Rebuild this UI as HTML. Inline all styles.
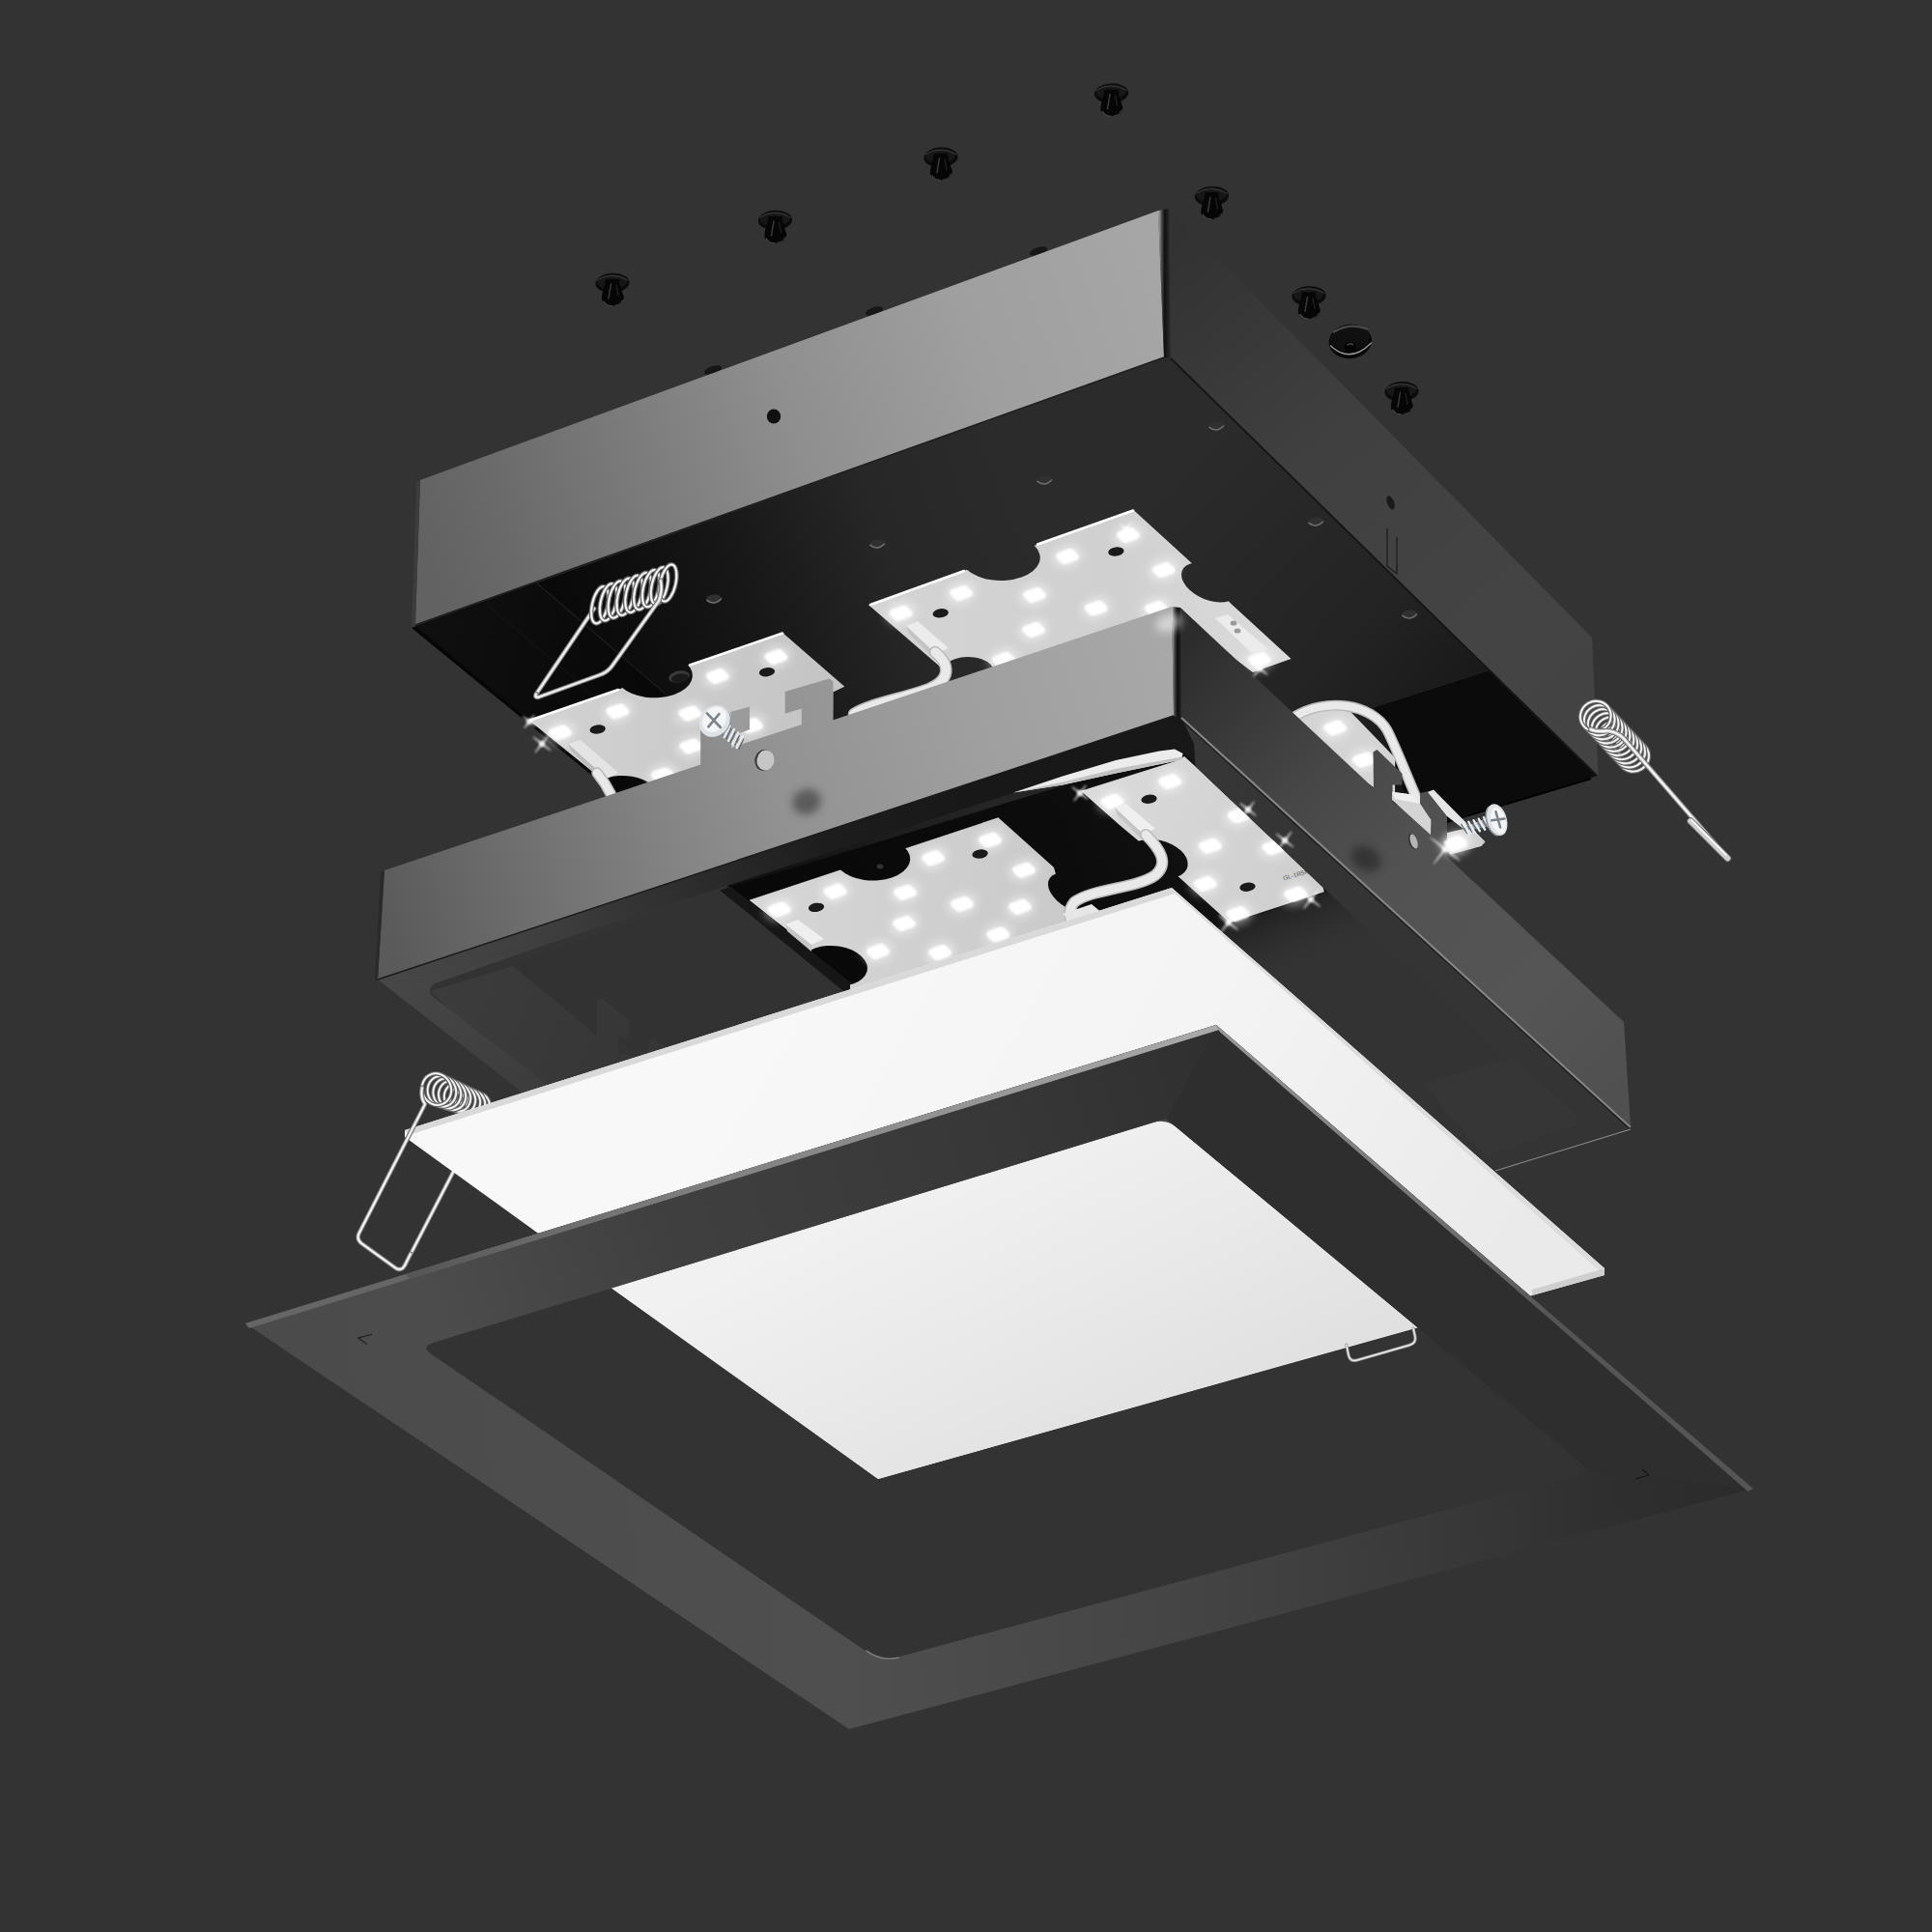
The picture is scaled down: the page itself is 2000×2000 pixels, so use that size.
<!DOCTYPE html>
<html><head><meta charset="utf-8"><title>Exploded luminaire</title>
<style>
html,body{margin:0;padding:0;background:#333333;font-family:"Liberation Sans",sans-serif;}
body{width:2000px;height:2000px;overflow:hidden;}
svg{display:block;}
</style></head><body>
<svg width="2000" height="2000" viewBox="0 0 2000 2000">
<defs>
<filter id="b2" x="-50%" y="-50%" width="200%" height="200%"><feGaussianBlur stdDeviation="2"/></filter>
<filter id="b1" x="-50%" y="-50%" width="200%" height="200%"><feGaussianBlur stdDeviation="0.8"/></filter>
<filter id="b4" x="-50%" y="-50%" width="200%" height="200%"><feGaussianBlur stdDeviation="4"/></filter>
<filter id="b8" x="-50%" y="-50%" width="200%" height="200%"><feGaussianBlur stdDeviation="9"/></filter>
<filter id="b20" x="-50%" y="-50%" width="200%" height="200%"><feGaussianBlur stdDeviation="22"/></filter>
<linearGradient id="gint" gradientUnits="userSpaceOnUse" x1="560.0" y1="760.0" x2="1250.0" y2="512.0"><stop offset="0" stop-color="#060606"/><stop offset="0.15" stop-color="#0c0c0c"/><stop offset="0.35" stop-color="#181818"/><stop offset="0.55" stop-color="#272727"/><stop offset="0.75" stop-color="#2b2b2b"/><stop offset="1" stop-color="#2b2b2b"/></linearGradient>
<linearGradient id="gint2" gradientUnits="userSpaceOnUse" x1="1230.0" y1="470.0" x2="1560.0" y2="780.0"><stop offset="0" stop-color="#0a0a0a" stop-opacity="0"/><stop offset="0.55" stop-color="#0a0a0a" stop-opacity="0.22"/><stop offset="1" stop-color="#080808" stop-opacity="0.7"/></linearGradient>
<linearGradient id="gilw" gradientUnits="userSpaceOnUse" x1="430.0" y1="650.0" x2="700.0" y2="720.0"><stop offset="0" stop-color="#101010"/><stop offset="1" stop-color="#070707"/></linearGradient>
<linearGradient id="gb1" gradientUnits="userSpaceOnUse" x1="560.0" y1="740.0" x2="860.0" y2="760.0"><stop offset="0" stop-color="#d2d2d2"/><stop offset="1" stop-color="#c4c4c4"/></linearGradient>
<mask id="bm1" maskUnits="userSpaceOnUse" x="0" y="0" width="2000" height="2000"><rect x="0" y="0" width="2000" height="2000" fill="#fff"/><circle r="1" fill="#000" transform="matrix(33.91 -12.10 21.08 19.92 677.0 699.0)"/><circle r="1" fill="#000" transform="matrix(28.26 -10.08 19.63 18.55 648.0 824.0)"/></mask>
<linearGradient id="gb2" gradientUnits="userSpaceOnUse" x1="900.0" y1="640.0" x2="1330.0" y2="620.0"><stop offset="0" stop-color="#d4d4d4"/><stop offset="0.6" stop-color="#d0d0d0"/><stop offset="1" stop-color="#dcdcdc"/></linearGradient>
<mask id="bm2" maskUnits="userSpaceOnUse" x="0" y="0" width="2000" height="2000"><rect x="0" y="0" width="2000" height="2000" fill="#fff"/><circle r="1" fill="#000" transform="matrix(34.85 -12.43 21.81 20.61 1035.6 577.0)"/><circle r="1" fill="#000" transform="matrix(20.72 -7.39 20.36 19.24 1252.0 603.0)"/><circle r="1" fill="#000" transform="matrix(22.61 -8.06 14.54 13.74 1003.0 696.0)"/></mask>
<linearGradient id="gA" gradientUnits="userSpaceOnUse" x1="435.0" y1="560.0" x2="1200.0" y2="290.0"><stop offset="0" stop-color="#626262"/><stop offset="0.1" stop-color="#696969"/><stop offset="0.28" stop-color="#7a7a7a"/><stop offset="0.5" stop-color="#8f8f8f"/><stop offset="0.75" stop-color="#9f9f9f"/><stop offset="1" stop-color="#a6a6a6"/></linearGradient>
<linearGradient id="gcs" gradientUnits="userSpaceOnUse" x1="1199.0" y1="300.0" x2="1211.0" y2="300.0"><stop offset="0" stop-color="#b4b4b4"/><stop offset="0.3" stop-color="#4a4a4a"/><stop offset="0.55" stop-color="#101010"/><stop offset="1" stop-color="#2a2a2a"/></linearGradient>
<linearGradient id="gB" gradientUnits="userSpaceOnUse" x1="1210.0" y1="230.0" x2="1650.0" y2="780.0"><stop offset="0" stop-color="#313131"/><stop offset="0.4" stop-color="#404040"/><stop offset="0.75" stop-color="#444444"/><stop offset="1" stop-color="#434343"/></linearGradient>
<linearGradient id="gplate" gradientUnits="userSpaceOnUse" x1="800.0" y1="1000.0" x2="1300.0" y2="820.0"><stop offset="0" stop-color="#080808"/><stop offset="0.6" stop-color="#0c0c0c"/><stop offset="1" stop-color="#141414"/></linearGradient>
<linearGradient id="gfw" gradientUnits="userSpaceOnUse" x1="1300.0" y1="940.0" x2="1330.0" y2="1010.0"><stop offset="0" stop-color="#1c1c1c"/><stop offset="1" stop-color="#313131" stop-opacity="0"/></linearGradient>
<linearGradient id="gmw" gradientUnits="userSpaceOnUse" x1="450.0" y1="1020.0" x2="660.0" y2="1110.0"><stop offset="0" stop-color="#3c3c3c"/><stop offset="1" stop-color="#363636"/></linearGradient>
<linearGradient id="gm1" gradientUnits="userSpaceOnUse" x1="780.0" y1="940.0" x2="1100.0" y2="900.0"><stop offset="0" stop-color="#d6d6d6"/><stop offset="1" stop-color="#cacaca"/></linearGradient>
<mask id="bm3" maskUnits="userSpaceOnUse" x="0" y="0" width="2000" height="2000"><rect x="0" y="0" width="2000" height="2000" fill="#fff"/><circle r="1" fill="#000" transform="matrix(32.97 -11.76 20.36 19.24 903.5 889.0)"/><circle r="1" fill="#000" transform="matrix(28.26 -10.08 19.63 18.55 863.5 1000.0)"/><circle r="1" fill="#000" transform="matrix(20.72 -7.39 21.81 20.61 1115.0 925.0)"/></mask>
<linearGradient id="gm2" gradientUnits="userSpaceOnUse" x1="1120.0" y1="830.0" x2="1370.0" y2="930.0"><stop offset="0" stop-color="#dadada"/><stop offset="1" stop-color="#cecece"/></linearGradient>
<mask id="bm4" maskUnits="userSpaceOnUse" x="0" y="0" width="2000" height="2000"><rect x="0" y="0" width="2000" height="2000" fill="#fff"/><circle r="1" fill="#000" transform="matrix(23.55 -8.40 19.63 18.55 1199.0 889.0)"/></mask>
<linearGradient id="glip" gradientUnits="userSpaceOnUse" x1="400.0" y1="1010.0" x2="1000.0" y2="810.0"><stop offset="0" stop-color="#474747"/><stop offset="0.28" stop-color="#3e3e3e"/><stop offset="0.53" stop-color="#2c2c2c"/><stop offset="0.75" stop-color="#1d1d1d"/><stop offset="1" stop-color="#181818"/></linearGradient>
<linearGradient id="glipl" gradientUnits="userSpaceOnUse" x1="400.0" y1="1020.0" x2="560.0" y2="1130.0"><stop offset="0" stop-color="#474747"/><stop offset="1" stop-color="#3c3c3c"/></linearGradient>
<linearGradient id="glipr" gradientUnits="userSpaceOnUse" x1="1300.0" y1="870.0" x2="1340.0" y2="850.0"><stop offset="0" stop-color="#363636"/><stop offset="1" stop-color="#343434"/></linearGradient>
<linearGradient id="gF" gradientUnits="userSpaceOnUse" x1="398.0" y1="960.0" x2="1214.0" y2="690.0"><stop offset="0" stop-color="#5a5a5a"/><stop offset="0.12" stop-color="#686868"/><stop offset="0.25" stop-color="#777777"/><stop offset="0.37" stop-color="#858585"/><stop offset="0.5" stop-color="#929292"/><stop offset="0.75" stop-color="#9f9f9f"/><stop offset="1" stop-color="#a8a8a8"/></linearGradient>
<linearGradient id="gmcs" gradientUnits="userSpaceOnUse" x1="1213.0" y1="700.0" x2="1223.0" y2="700.0"><stop offset="0" stop-color="#b8b8b8"/><stop offset="0.3" stop-color="#444"/><stop offset="0.6" stop-color="#0c0c0c"/><stop offset="1" stop-color="#262626"/></linearGradient>
<linearGradient id="gR" gradientUnits="userSpaceOnUse" x1="1222.0" y1="660.0" x2="1685.0" y2="1120.0"><stop offset="0" stop-color="#2b2b2b"/><stop offset="0.12" stop-color="#363636"/><stop offset="0.3" stop-color="#464646"/><stop offset="0.5" stop-color="#525252"/><stop offset="0.8" stop-color="#555555"/><stop offset="1" stop-color="#505050"/></linearGradient>
<linearGradient id="gD" gradientUnits="userSpaceOnUse" x1="800.0" y1="1000.0" x2="1500.0" y2="1400.0"><stop offset="0" stop-color="#f8f8f8"/><stop offset="0.5" stop-color="#f4f4f4"/><stop offset="1" stop-color="#eaeaea"/></linearGradient>
<linearGradient id="gD2" gradientUnits="userSpaceOnUse" x1="1000.0" y1="1200.0" x2="1150.0" y2="1520.0"><stop offset="0" stop-color="#f1f1f1"/><stop offset="0.5" stop-color="#e9e9e9"/><stop offset="1" stop-color="#e0e0e0"/></linearGradient>
<linearGradient id="gT" gradientUnits="userSpaceOnUse" x1="300" y1="1500" x2="1750" y2="1400"><stop offset="0" stop-color="#4b4b4b"/><stop offset="0.38" stop-color="#4f4f4f"/><stop offset="0.62" stop-color="#454545"/><stop offset="0.8" stop-color="#3a3a3a"/><stop offset="0.93" stop-color="#2f2f2f"/><stop offset="1" stop-color="#2c2c2c"/></linearGradient>
<linearGradient id="gTt" gradientUnits="userSpaceOnUse" x1="450.0" y1="1360.0" x2="1250.0" y2="1100.0"><stop offset="0" stop-color="#3c3c3c" stop-opacity="0"/><stop offset="0.3" stop-color="#3d3d3d" stop-opacity="0.85"/><stop offset="0.7" stop-color="#383838" stop-opacity="1"/><stop offset="1" stop-color="#303030" stop-opacity="1"/></linearGradient>
<linearGradient id="gTe" gradientUnits="userSpaceOnUse" x1="420.0" y1="1320.0" x2="1259.0" y2="1062.0"><stop offset="0" stop-color="#555"/><stop offset="0.3" stop-color="#7a7a7a"/><stop offset="1" stop-color="#aaaaaa"/></linearGradient>
<linearGradient id="gTr" gradientUnits="userSpaceOnUse" x1="1259.0" y1="1062.0" x2="1815.0" y2="1541.0"><stop offset="0" stop-color="#9a9a9a"/><stop offset="0.5" stop-color="#6a6a6a"/><stop offset="0.62" stop-color="#555555"/><stop offset="1" stop-color="#555555"/></linearGradient>
</defs>
<rect x="0" y="0" width="2000" height="2000" fill="#333333"/>
<ellipse cx="1150.5" cy="96.6" rx="17.6" ry="10.2" fill="#0b0b0b" transform="rotate(-3.0 1150.5 96.6)" />
<ellipse cx="1150.0" cy="95.1" rx="15.5" ry="7.6" fill="#171717" transform="rotate(-3.0 1150.0 95.1)" />
<path d="M1134.5,93.6 q15.0,-9.5 32.0,0.0" fill="none" stroke="#3c3c3c" stroke-width="1.00" stroke-linecap="round"/>
<path d="M1143.5,92.6 C1142.5,100.6 1138.5,108.6 1139.5,114.6 L1144.5,119.6 C1148.5,120.6 1154.5,120.6 1159.5,117.6 L1162.5,111.6 C1160.5,104.6 1157.5,98.6 1157.5,92.6 Z" fill="#060606" stroke="none" stroke-width="1.00" />
<path d="M1149.0,97.6 L1146.5,112.6" fill="none" stroke="#3a3a3a" stroke-width="1.50" stroke-linecap="round"/>
<path d="M1141.5,115.6 q3.0,5.0 8.0,4.5" fill="none" stroke="#4a4a4a" stroke-width="1.10" stroke-linecap="round"/>
<path d="M1153.5,119.6 q5.0,0.0 7.0,-5.0" fill="none" stroke="#3c3c3c" stroke-width="1.00" stroke-linecap="round"/>
<path d="M1154.5,98.6 L1156.5,109.6" fill="none" stroke="#222" stroke-width="1.20" stroke-linecap="round"/>
<ellipse cx="974.0" cy="162.8" rx="17.6" ry="10.2" fill="#0b0b0b" transform="rotate(-3.0 974.0 162.8)" />
<ellipse cx="973.5" cy="161.3" rx="15.5" ry="7.6" fill="#171717" transform="rotate(-3.0 973.5 161.3)" />
<path d="M958.0,159.8 q15.0,-9.5 32.0,0.0" fill="none" stroke="#3c3c3c" stroke-width="1.00" stroke-linecap="round"/>
<path d="M967.0,158.8 C966.0,166.8 962.0,174.8 963.0,180.8 L968.0,185.8 C972.0,186.8 978.0,186.8 983.0,183.8 L986.0,177.8 C984.0,170.8 981.0,164.8 981.0,158.8 Z" fill="#060606" stroke="none" stroke-width="1.00" />
<path d="M972.5,163.8 L970.0,178.8" fill="none" stroke="#3a3a3a" stroke-width="1.50" stroke-linecap="round"/>
<path d="M965.0,181.8 q3.0,5.0 8.0,4.5" fill="none" stroke="#4a4a4a" stroke-width="1.10" stroke-linecap="round"/>
<path d="M977.0,185.8 q5.0,0.0 7.0,-5.0" fill="none" stroke="#3c3c3c" stroke-width="1.00" stroke-linecap="round"/>
<path d="M978.0,164.8 L980.0,175.8" fill="none" stroke="#222" stroke-width="1.20" stroke-linecap="round"/>
<ellipse cx="802.5" cy="228.0" rx="17.6" ry="10.2" fill="#0b0b0b" transform="rotate(-3.0 802.5 228.0)" />
<ellipse cx="802.0" cy="226.5" rx="15.5" ry="7.6" fill="#171717" transform="rotate(-3.0 802.0 226.5)" />
<path d="M786.5,225.0 q15.0,-9.5 32.0,0.0" fill="none" stroke="#3c3c3c" stroke-width="1.00" stroke-linecap="round"/>
<path d="M795.5,224.0 C794.5,232.0 790.5,240.0 791.5,246.0 L796.5,251.0 C800.5,252.0 806.5,252.0 811.5,249.0 L814.5,243.0 C812.5,236.0 809.5,230.0 809.5,224.0 Z" fill="#060606" stroke="none" stroke-width="1.00" />
<path d="M801.0,229.0 L798.5,244.0" fill="none" stroke="#3a3a3a" stroke-width="1.50" stroke-linecap="round"/>
<path d="M793.5,247.0 q3.0,5.0 8.0,4.5" fill="none" stroke="#4a4a4a" stroke-width="1.10" stroke-linecap="round"/>
<path d="M805.5,251.0 q5.0,0.0 7.0,-5.0" fill="none" stroke="#3c3c3c" stroke-width="1.00" stroke-linecap="round"/>
<path d="M806.5,230.0 L808.5,241.0" fill="none" stroke="#222" stroke-width="1.20" stroke-linecap="round"/>
<ellipse cx="634.0" cy="293.0" rx="17.6" ry="10.2" fill="#0b0b0b" transform="rotate(-3.0 634.0 293.0)" />
<ellipse cx="633.5" cy="291.5" rx="15.5" ry="7.6" fill="#171717" transform="rotate(-3.0 633.5 291.5)" />
<path d="M618.0,290.0 q15.0,-9.5 32.0,0.0" fill="none" stroke="#3c3c3c" stroke-width="1.00" stroke-linecap="round"/>
<path d="M627.0,289.0 C626.0,297.0 622.0,305.0 623.0,311.0 L628.0,316.0 C632.0,317.0 638.0,317.0 643.0,314.0 L646.0,308.0 C644.0,301.0 641.0,295.0 641.0,289.0 Z" fill="#060606" stroke="none" stroke-width="1.00" />
<path d="M632.5,294.0 L630.0,309.0" fill="none" stroke="#3a3a3a" stroke-width="1.50" stroke-linecap="round"/>
<path d="M625.0,312.0 q3.0,5.0 8.0,4.5" fill="none" stroke="#4a4a4a" stroke-width="1.10" stroke-linecap="round"/>
<path d="M637.0,316.0 q5.0,0.0 7.0,-5.0" fill="none" stroke="#3c3c3c" stroke-width="1.00" stroke-linecap="round"/>
<path d="M638.0,295.0 L640.0,306.0" fill="none" stroke="#222" stroke-width="1.20" stroke-linecap="round"/>
<ellipse cx="1254.4" cy="203.2" rx="17.6" ry="10.2" fill="#0b0b0b" transform="rotate(-3.0 1254.4 203.2)" />
<ellipse cx="1253.9" cy="201.7" rx="15.5" ry="7.6" fill="#171717" transform="rotate(-3.0 1253.9 201.7)" />
<path d="M1238.4,200.2 q15.0,-9.5 32.0,0.0" fill="none" stroke="#3c3c3c" stroke-width="1.00" stroke-linecap="round"/>
<path d="M1247.4,199.2 C1246.4,207.2 1242.4,215.2 1243.4,221.2 L1248.4,226.2 C1252.4,227.2 1258.4,227.2 1263.4,224.2 L1266.4,218.2 C1264.4,211.2 1261.4,205.2 1261.4,199.2 Z" fill="#060606" stroke="none" stroke-width="1.00" />
<path d="M1252.9,204.2 L1250.4,219.2" fill="none" stroke="#3a3a3a" stroke-width="1.50" stroke-linecap="round"/>
<path d="M1245.4,222.2 q3.0,5.0 8.0,4.5" fill="none" stroke="#4a4a4a" stroke-width="1.10" stroke-linecap="round"/>
<path d="M1257.4,226.2 q5.0,0.0 7.0,-5.0" fill="none" stroke="#3c3c3c" stroke-width="1.00" stroke-linecap="round"/>
<path d="M1258.4,205.2 L1260.4,216.2" fill="none" stroke="#222" stroke-width="1.20" stroke-linecap="round"/>
<ellipse cx="1355.0" cy="306.4" rx="17.6" ry="10.2" fill="#0b0b0b" transform="rotate(-3.0 1355.0 306.4)" />
<ellipse cx="1354.5" cy="304.9" rx="15.5" ry="7.6" fill="#171717" transform="rotate(-3.0 1354.5 304.9)" />
<path d="M1339.0,303.4 q15.0,-9.5 32.0,0.0" fill="none" stroke="#3c3c3c" stroke-width="1.00" stroke-linecap="round"/>
<path d="M1348.0,302.4 C1347.0,310.4 1343.0,318.4 1344.0,324.4 L1349.0,329.4 C1353.0,330.4 1359.0,330.4 1364.0,327.4 L1367.0,321.4 C1365.0,314.4 1362.0,308.4 1362.0,302.4 Z" fill="#060606" stroke="none" stroke-width="1.00" />
<path d="M1353.5,307.4 L1351.0,322.4" fill="none" stroke="#3a3a3a" stroke-width="1.50" stroke-linecap="round"/>
<path d="M1346.0,325.4 q3.0,5.0 8.0,4.5" fill="none" stroke="#4a4a4a" stroke-width="1.10" stroke-linecap="round"/>
<path d="M1358.0,329.4 q5.0,0.0 7.0,-5.0" fill="none" stroke="#3c3c3c" stroke-width="1.00" stroke-linecap="round"/>
<path d="M1359.0,308.4 L1361.0,319.4" fill="none" stroke="#222" stroke-width="1.20" stroke-linecap="round"/>
<ellipse cx="1451.0" cy="405.3" rx="17.6" ry="10.2" fill="#0b0b0b" transform="rotate(-3.0 1451.0 405.3)" />
<ellipse cx="1450.5" cy="403.8" rx="15.5" ry="7.6" fill="#171717" transform="rotate(-3.0 1450.5 403.8)" />
<path d="M1435.0,402.3 q15.0,-9.5 32.0,0.0" fill="none" stroke="#3c3c3c" stroke-width="1.00" stroke-linecap="round"/>
<path d="M1444.0,401.3 C1443.0,409.3 1439.0,417.3 1440.0,423.3 L1445.0,428.3 C1449.0,429.3 1455.0,429.3 1460.0,426.3 L1463.0,420.3 C1461.0,413.3 1458.0,407.3 1458.0,401.3 Z" fill="#060606" stroke="none" stroke-width="1.00" />
<path d="M1449.5,406.3 L1447.0,421.3" fill="none" stroke="#3a3a3a" stroke-width="1.50" stroke-linecap="round"/>
<path d="M1442.0,424.3 q3.0,5.0 8.0,4.5" fill="none" stroke="#4a4a4a" stroke-width="1.10" stroke-linecap="round"/>
<path d="M1454.0,428.3 q5.0,0.0 7.0,-5.0" fill="none" stroke="#3c3c3c" stroke-width="1.00" stroke-linecap="round"/>
<path d="M1455.0,407.3 L1457.0,418.3" fill="none" stroke="#222" stroke-width="1.20" stroke-linecap="round"/>
<ellipse cx="1397.8" cy="353.5" rx="22.3" ry="17.6" fill="#070707" transform="rotate(-6.0 1397.8 353.5)" />
<ellipse cx="1397.5" cy="349.5" rx="20.5" ry="13.5" fill="#101010" transform="rotate(-6.0 1397.5 349.5)" />
<path d="M1377.5,358 q20,19 42,-3" fill="none" stroke="#9a9a9a" stroke-width="1.30" stroke-linecap="round"/>
<path d="M1381,343.5 q16,-10 34,-3" fill="none" stroke="#4a4a4a" stroke-width="2.40" stroke-linecap="round"/>
<ellipse cx="1397.8" cy="359.0" rx="6.2" ry="4.6" fill="#000" />
<path d="M1394.5,357.5 q3,-3 6.5,-0.5" fill="none" stroke="#555" stroke-width="1.20" />
<ellipse cx="1075.0" cy="260.0" rx="9.5" ry="4.0" fill="#161616" transform="rotate(-18.0 1075.0 260.0)" />
<ellipse cx="905.0" cy="322.0" rx="9.5" ry="4.0" fill="#161616" transform="rotate(-18.0 905.0 322.0)" />
<ellipse cx="738.0" cy="383.0" rx="9.5" ry="4.0" fill="#161616" transform="rotate(-18.0 738.0 383.0)" />
<polygon points="426.0,650.0 1205.0,370.0 1212.0,371.0 1653.0,803.0 905.0,1042.0" fill="url(#gint)" />
<polygon points="1205.0,370.0 1212.0,371.0 1653.0,803.0 905.0,1042.0 1000.0,720.0" fill="url(#gint2)" />
<polygon points="430.0,648.0 555.0,603.0 700.0,728.0 640.0,822.0" fill="url(#gilw)" />
<line x1="555.0" y1="603.0" x2="700.0" y2="728.0" stroke="#1d1d1d" stroke-width="1.20" />
<line x1="500.0" y1="622.0" x2="640.0" y2="742.0" stroke="#161616" stroke-width="1.00" />
<polygon points="1422.0,732.0 1559.0,688.0 1653.0,803.0 1467.0,858.0" fill="#0b0b0b" />
<line x1="1422.0" y1="732.0" x2="1559.0" y2="688.0" stroke="#202020" stroke-width="1.20" />
<line x1="1290.0" y1="772.0" x2="1422.0" y2="732.0" stroke="#1c1c1c" stroke-width="1.00" />
<line x1="1647.0" y1="806.0" x2="1467.0" y2="860.0" stroke="#000" stroke-width="2.00" />
<ellipse cx="1081.0" cy="497.0" rx="8.1" ry="4.6" fill="#303030" transform="rotate(-5.0 1081.0 497.0)" />
<path d="M1073.9,498.4 q7.6,5.7 14.7,-1.4" fill="none" stroke="#6e6e6e" stroke-width="1.52" stroke-linecap="round"/>
<ellipse cx="1259.0" cy="441.0" rx="8.1" ry="4.6" fill="#303030" transform="rotate(-5.0 1259.0 441.0)" />
<path d="M1251.9,442.4 q7.6,5.7 14.7,-1.4" fill="none" stroke="#6e6e6e" stroke-width="1.52" stroke-linecap="round"/>
<ellipse cx="908.0" cy="563.0" rx="8.1" ry="4.6" fill="#303030" transform="rotate(-5.0 908.0 563.0)" />
<path d="M900.9,564.4 q7.6,5.7 14.7,-1.4" fill="none" stroke="#6e6e6e" stroke-width="1.52" stroke-linecap="round"/>
<ellipse cx="1362.0" cy="540.0" rx="8.1" ry="4.6" fill="#303030" transform="rotate(-5.0 1362.0 540.0)" />
<path d="M1354.9,541.4 q7.6,5.7 14.7,-1.4" fill="none" stroke="#6e6e6e" stroke-width="1.52" stroke-linecap="round"/>
<ellipse cx="1459.0" cy="636.0" rx="8.1" ry="4.6" fill="#303030" transform="rotate(-5.0 1459.0 636.0)" />
<path d="M1451.9,637.4 q7.6,5.7 14.7,-1.4" fill="none" stroke="#6e6e6e" stroke-width="1.52" stroke-linecap="round"/>
<ellipse cx="739.0" cy="620.0" rx="8.1" ry="4.6" fill="#303030" transform="rotate(-5.0 739.0 620.0)" />
<path d="M731.9,621.4 q7.6,5.7 14.7,-1.4" fill="none" stroke="#6e6e6e" stroke-width="1.52" stroke-linecap="round"/>
<ellipse cx="703.0" cy="700.5" rx="11.0" ry="6.0" fill="#3a3a3a" transform="rotate(-10.0 703.0 700.5)" />
<ellipse cx="704.0" cy="702.0" rx="9.0" ry="4.5" fill="#1a1a1a" transform="rotate(-10.0 704.0 702.0)" />
<polygon points="547.5,745.5 810.2,655.0 874.3,710.7 862.4,716.4 862.0,770.0 640.0,840.0 614.8,800.0" fill="url(#gb1)" mask="url(#bm1)"/>
<line x1="549.0" y1="745.5" x2="640.0" y2="714.0" stroke="#ffffff" stroke-width="2.60" stroke-linecap="round"/>
<line x1="714.0" y1="688.5" x2="810.0" y2="655.5" stroke="#ffffff" stroke-width="2.60" stroke-linecap="round"/>
<ellipse cx="579.9" cy="758.4" rx="16.0" ry="11.5" fill="#ffffff" transform="rotate(-18.0 579.9 758.4)" opacity="0.42" filter="url(#b4)"/>
<polygon points="572.1,758.1 583.0,754.2 587.7,758.7 576.8,762.6" fill="#ffffff" stroke="#ffffff" stroke-width="8.0" stroke-linejoin="round" filter="url(#b1)"/>
<ellipse cx="639.4" cy="736.4" rx="16.0" ry="11.5" fill="#ffffff" transform="rotate(-18.0 639.4 736.4)" opacity="0.42" filter="url(#b4)"/>
<polygon points="631.6,736.1 642.5,732.2 647.2,736.7 636.3,740.6" fill="#ffffff" stroke="#ffffff" stroke-width="8.0" stroke-linejoin="round" filter="url(#b1)"/>
<ellipse cx="742.8" cy="700.0" rx="16.0" ry="11.5" fill="#ffffff" transform="rotate(-18.0 742.8 700.0)" opacity="0.42" filter="url(#b4)"/>
<polygon points="735.0,699.7 745.9,695.8 750.6,700.3 739.7,704.2" fill="#ffffff" stroke="#ffffff" stroke-width="8.0" stroke-linejoin="round" filter="url(#b1)"/>
<ellipse cx="803.4" cy="680.0" rx="16.0" ry="11.5" fill="#ffffff" transform="rotate(-18.0 803.4 680.0)" opacity="0.42" filter="url(#b4)"/>
<polygon points="795.6,679.7 806.5,675.8 811.2,680.3 800.3,684.2" fill="#ffffff" stroke="#ffffff" stroke-width="8.0" stroke-linejoin="round" filter="url(#b1)"/>
<ellipse cx="714.3" cy="738.5" rx="16.0" ry="11.5" fill="#ffffff" transform="rotate(-18.0 714.3 738.5)" opacity="0.42" filter="url(#b4)"/>
<polygon points="706.5,738.2 717.4,734.3 722.1,738.8 711.2,742.7" fill="#ffffff" stroke="#ffffff" stroke-width="8.0" stroke-linejoin="round" filter="url(#b1)"/>
<ellipse cx="778.0" cy="751.1" rx="16.0" ry="11.5" fill="#ffffff" transform="rotate(-18.0 778.0 751.1)" opacity="0.42" filter="url(#b4)"/>
<polygon points="770.2,750.8 781.1,746.9 785.8,751.4 774.9,755.3" fill="#ffffff" stroke="#ffffff" stroke-width="8.0" stroke-linejoin="round" filter="url(#b1)"/>
<ellipse cx="715.4" cy="772.5" rx="16.0" ry="11.5" fill="#ffffff" transform="rotate(-18.0 715.4 772.5)" opacity="0.42" filter="url(#b4)"/>
<polygon points="707.6,772.2 718.5,768.3 723.2,772.8 712.3,776.7" fill="#ffffff" stroke="#ffffff" stroke-width="8.0" stroke-linejoin="round" filter="url(#b1)"/>
<ellipse cx="686.0" cy="802.4" rx="16.0" ry="11.5" fill="#ffffff" transform="rotate(-18.0 686.0 802.4)" opacity="0.42" filter="url(#b4)"/>
<polygon points="678.2,802.1 689.1,798.2 693.8,802.7 682.9,806.6" fill="#ffffff" stroke="#ffffff" stroke-width="8.0" stroke-linejoin="round" filter="url(#b1)"/>
<ellipse cx="618.7" cy="755.0" rx="8.2" ry="4.6" fill="#1a1a1a" transform="rotate(-8.0 618.7 755.0)" />
<ellipse cx="794.0" cy="695.7" rx="8.2" ry="4.6" fill="#1a1a1a" transform="rotate(-8.0 794.0 695.7)" />
<polygon points="588.0,770.0 601.0,766.0 640.0,800.0 628.0,806.0" fill="#e4e4e4" />
<polygon points="588.0,770.0 592.0,778.0 628.0,813.0 628.0,806.0" fill="#bdbdbd" />
<path d="M618,800 C628,812 636,826 640,845" fill="none" stroke="#b9b9b9" stroke-width="11.50" stroke-linecap="round" stroke-linejoin="round"/>
<path d="M618,800 C628,812 636,826 640,845" fill="none" stroke="#e9e9e9" stroke-width="8.50" stroke-linecap="round" stroke-linejoin="round"/>
<polygon points="899.2,626.2 1173.5,528.0 1237.0,586.0 1274.4,625.0 1336.5,682.0 1297.0,696.0 1222.0,640.0 1000.0,712.0 988.0,703.0" fill="url(#gb2)" mask="url(#bm2)"/>
<line x1="901.0" y1="626.0" x2="998.0" y2="591.0" stroke="#ffffff" stroke-width="2.60" stroke-linecap="round"/>
<line x1="1074.0" y1="563.5" x2="1173.0" y2="528.5" stroke="#ffffff" stroke-width="2.60" stroke-linecap="round"/>
<ellipse cx="932.8" cy="634.8" rx="16.0" ry="11.5" fill="#ffffff" transform="rotate(-18.0 932.8 634.8)" opacity="0.42" filter="url(#b4)"/>
<polygon points="925.0,634.5 935.9,630.6 940.6,635.1 929.7,639.0" fill="#ffffff" stroke="#ffffff" stroke-width="8.0" stroke-linejoin="round" filter="url(#b1)"/>
<ellipse cx="995.0" cy="614.0" rx="16.0" ry="11.5" fill="#ffffff" transform="rotate(-18.0 995.0 614.0)" opacity="0.42" filter="url(#b4)"/>
<polygon points="987.2,613.7 998.1,609.8 1002.8,614.3 991.9,618.2" fill="#ffffff" stroke="#ffffff" stroke-width="8.0" stroke-linejoin="round" filter="url(#b1)"/>
<ellipse cx="1071.0" cy="616.0" rx="16.0" ry="11.5" fill="#ffffff" transform="rotate(-18.0 1071.0 616.0)" opacity="0.42" filter="url(#b4)"/>
<polygon points="1063.2,615.7 1074.1,611.8 1078.8,616.3 1067.9,620.2" fill="#ffffff" stroke="#ffffff" stroke-width="8.0" stroke-linejoin="round" filter="url(#b1)"/>
<ellipse cx="1105.0" cy="576.0" rx="16.0" ry="11.5" fill="#ffffff" transform="rotate(-18.0 1105.0 576.0)" opacity="0.42" filter="url(#b4)"/>
<polygon points="1097.2,575.7 1108.1,571.8 1112.8,576.3 1101.9,580.2" fill="#ffffff" stroke="#ffffff" stroke-width="8.0" stroke-linejoin="round" filter="url(#b1)"/>
<ellipse cx="1168.0" cy="554.0" rx="16.0" ry="11.5" fill="#ffffff" transform="rotate(-18.0 1168.0 554.0)" opacity="0.42" filter="url(#b4)"/>
<polygon points="1160.2,553.7 1171.1,549.8 1175.8,554.3 1164.9,558.2" fill="#ffffff" stroke="#ffffff" stroke-width="8.0" stroke-linejoin="round" filter="url(#b1)"/>
<ellipse cx="1204.6" cy="590.0" rx="16.0" ry="11.5" fill="#ffffff" transform="rotate(-18.0 1204.6 590.0)" opacity="0.42" filter="url(#b4)"/>
<polygon points="1196.8,589.7 1207.7,585.8 1212.4,590.3 1201.5,594.2" fill="#ffffff" stroke="#ffffff" stroke-width="8.0" stroke-linejoin="round" filter="url(#b1)"/>
<ellipse cx="1134.7" cy="629.6" rx="16.0" ry="11.5" fill="#ffffff" transform="rotate(-18.0 1134.7 629.6)" opacity="0.42" filter="url(#b4)"/>
<polygon points="1126.9,629.3 1137.8,625.4 1142.5,629.9 1131.6,633.8" fill="#ffffff" stroke="#ffffff" stroke-width="8.0" stroke-linejoin="round" filter="url(#b1)"/>
<ellipse cx="1070.0" cy="652.0" rx="16.0" ry="11.5" fill="#ffffff" transform="rotate(-18.0 1070.0 652.0)" opacity="0.42" filter="url(#b4)"/>
<polygon points="1062.2,651.7 1073.1,647.8 1077.8,652.3 1066.9,656.2" fill="#ffffff" stroke="#ffffff" stroke-width="8.0" stroke-linejoin="round" filter="url(#b1)"/>
<ellipse cx="1196.8" cy="630.0" rx="16.0" ry="11.5" fill="#ffffff" transform="rotate(-18.0 1196.8 630.0)" opacity="0.42" filter="url(#b4)"/>
<polygon points="1189.0,629.7 1199.9,625.8 1204.6,630.3 1193.7,634.2" fill="#ffffff" stroke="#ffffff" stroke-width="8.0" stroke-linejoin="round" filter="url(#b1)"/>
<ellipse cx="1039.0" cy="683.0" rx="16.0" ry="11.5" fill="#ffffff" transform="rotate(-18.0 1039.0 683.0)" opacity="0.42" filter="url(#b4)"/>
<polygon points="1031.2,682.7 1042.1,678.8 1046.8,683.3 1035.9,687.2" fill="#ffffff" stroke="#ffffff" stroke-width="8.0" stroke-linejoin="round" filter="url(#b1)"/>
<ellipse cx="1304.0" cy="683.0" rx="16.0" ry="11.5" fill="#ffffff" transform="rotate(-18.0 1304.0 683.0)" opacity="0.42" filter="url(#b4)"/>
<polygon points="1296.2,682.7 1307.1,678.8 1311.8,683.3 1300.9,687.2" fill="#ffffff" stroke="#ffffff" stroke-width="8.0" stroke-linejoin="round" filter="url(#b1)"/>
<ellipse cx="973.7" cy="634.8" rx="8.2" ry="4.6" fill="#1a1a1a" transform="rotate(-8.0 973.7 634.8)" />
<ellipse cx="1155.4" cy="571.0" rx="8.2" ry="4.6" fill="#1a1a1a" transform="rotate(-8.0 1155.4 571.0)" />
<polygon points="1258.0,640.0 1271.0,636.0 1313.0,672.0 1297.0,677.0" fill="#ececec" />
<ellipse cx="1277.0" cy="645.0" rx="3.4" ry="2.6" fill="#9a9a9a" />
<ellipse cx="1281.0" cy="653.0" rx="3.4" ry="2.6" fill="#9a9a9a" />
<polygon points="938.0,648.0 950.0,643.0 982.0,671.0 969.0,677.0" fill="#ececec" />
<polygon points="938.0,648.0 941.0,656.0 969.0,684.0 969.0,677.0" fill="#c3c3c3" />
<path d="M968,675 C984,688 984,704 962,713 C932,724 902,728 884,739" fill="none" stroke="#b9b9b9" stroke-width="12.50" stroke-linecap="round" stroke-linejoin="round"/>
<path d="M968,675 C984,688 984,704 962,713 C932,724 902,728 884,739" fill="none" stroke="#e9e9e9" stroke-width="9.50" stroke-linecap="round" stroke-linejoin="round"/>
<polygon points="1337.6,741.0 1393.0,731.5 1444.2,784.5 1444.0,830.0 1400.0,800.0" fill="#d4d4d4" />
<ellipse cx="1382.0" cy="753.5" rx="16.0" ry="11.5" fill="#ffffff" transform="rotate(-18.0 1382.0 753.5)" opacity="0.42" filter="url(#b4)"/>
<polygon points="1374.2,753.2 1385.1,749.3 1389.8,753.8 1378.9,757.7" fill="#ffffff" stroke="#ffffff" stroke-width="8.0" stroke-linejoin="round" filter="url(#b1)"/>
<ellipse cx="1412.0" cy="786.6" rx="16.0" ry="11.5" fill="#ffffff" transform="rotate(-18.0 1412.0 786.6)" opacity="0.42" filter="url(#b4)"/>
<polygon points="1404.2,786.3 1415.1,782.4 1419.8,786.9 1408.9,790.8" fill="#ffffff" stroke="#ffffff" stroke-width="8.0" stroke-linejoin="round" filter="url(#b1)"/>
<path d="M1340,742 C1372,722 1420,728 1436,756 C1448,780 1458,808 1469,832" fill="none" stroke="#b9b9b9" stroke-width="11.00" stroke-linecap="round" stroke-linejoin="round"/>
<path d="M1340,742 C1372,722 1420,728 1436,756 C1448,780 1458,808 1469,832" fill="none" stroke="#e9e9e9" stroke-width="8.00" stroke-linecap="round" stroke-linejoin="round"/>
<path d="M615,630 L555,718.5" fill="none" stroke="#5e5e5e" stroke-width="5.00" stroke-linecap="round" stroke-linejoin="round"/>
<path d="M615,630 L555,718.5" fill="none" stroke="#c4c4c4" stroke-width="3.40" stroke-linecap="round" stroke-linejoin="round"/>
<path d="M615,630 L555,718.5" fill="none" stroke="#ffffff" stroke-width="1.28" stroke-linecap="round" stroke-linejoin="round"/>
<ellipse cx="621.0" cy="626.3" rx="8.0" ry="19.5" fill="none" stroke="#5c5c5c" stroke-width="4.7" transform="rotate(13.0 621.0 626.3)"/>
<ellipse cx="621.0" cy="626.3" rx="8.0" ry="19.5" fill="none" stroke="#d6d6d6" stroke-width="2.5" transform="rotate(13.0 621.0 626.3)"/>
<ellipse cx="621.0" cy="626.3" rx="8.0" ry="19.5" fill="none" stroke="#ffffff" stroke-width="1.0" transform="rotate(13.0 621.0 626.3)"/>
<ellipse cx="629.8" cy="623.4" rx="8.0" ry="19.5" fill="none" stroke="#5c5c5c" stroke-width="4.7" transform="rotate(13.0 629.8 623.4)"/>
<ellipse cx="629.8" cy="623.4" rx="8.0" ry="19.5" fill="none" stroke="#d6d6d6" stroke-width="2.5" transform="rotate(13.0 629.8 623.4)"/>
<ellipse cx="629.8" cy="623.4" rx="8.0" ry="19.5" fill="none" stroke="#ffffff" stroke-width="1.0" transform="rotate(13.0 629.8 623.4)"/>
<ellipse cx="638.6" cy="620.6" rx="8.0" ry="19.5" fill="none" stroke="#5c5c5c" stroke-width="4.7" transform="rotate(13.0 638.6 620.6)"/>
<ellipse cx="638.6" cy="620.6" rx="8.0" ry="19.5" fill="none" stroke="#d6d6d6" stroke-width="2.5" transform="rotate(13.0 638.6 620.6)"/>
<ellipse cx="638.6" cy="620.6" rx="8.0" ry="19.5" fill="none" stroke="#ffffff" stroke-width="1.0" transform="rotate(13.0 638.6 620.6)"/>
<ellipse cx="647.4" cy="617.8" rx="8.0" ry="19.5" fill="none" stroke="#5c5c5c" stroke-width="4.7" transform="rotate(13.0 647.4 617.8)"/>
<ellipse cx="647.4" cy="617.8" rx="8.0" ry="19.5" fill="none" stroke="#d6d6d6" stroke-width="2.5" transform="rotate(13.0 647.4 617.8)"/>
<ellipse cx="647.4" cy="617.8" rx="8.0" ry="19.5" fill="none" stroke="#ffffff" stroke-width="1.0" transform="rotate(13.0 647.4 617.8)"/>
<ellipse cx="656.2" cy="614.9" rx="8.0" ry="19.5" fill="none" stroke="#5c5c5c" stroke-width="4.7" transform="rotate(13.0 656.2 614.9)"/>
<ellipse cx="656.2" cy="614.9" rx="8.0" ry="19.5" fill="none" stroke="#d6d6d6" stroke-width="2.5" transform="rotate(13.0 656.2 614.9)"/>
<ellipse cx="656.2" cy="614.9" rx="8.0" ry="19.5" fill="none" stroke="#ffffff" stroke-width="1.0" transform="rotate(13.0 656.2 614.9)"/>
<ellipse cx="665.1" cy="612.0" rx="8.0" ry="19.5" fill="none" stroke="#5c5c5c" stroke-width="4.7" transform="rotate(13.0 665.1 612.0)"/>
<ellipse cx="665.1" cy="612.0" rx="8.0" ry="19.5" fill="none" stroke="#d6d6d6" stroke-width="2.5" transform="rotate(13.0 665.1 612.0)"/>
<ellipse cx="665.1" cy="612.0" rx="8.0" ry="19.5" fill="none" stroke="#ffffff" stroke-width="1.0" transform="rotate(13.0 665.1 612.0)"/>
<ellipse cx="673.9" cy="609.2" rx="8.0" ry="19.5" fill="none" stroke="#5c5c5c" stroke-width="4.7" transform="rotate(13.0 673.9 609.2)"/>
<ellipse cx="673.9" cy="609.2" rx="8.0" ry="19.5" fill="none" stroke="#d6d6d6" stroke-width="2.5" transform="rotate(13.0 673.9 609.2)"/>
<ellipse cx="673.9" cy="609.2" rx="8.0" ry="19.5" fill="none" stroke="#ffffff" stroke-width="1.0" transform="rotate(13.0 673.9 609.2)"/>
<ellipse cx="682.7" cy="606.4" rx="8.0" ry="19.5" fill="none" stroke="#5c5c5c" stroke-width="4.7" transform="rotate(13.0 682.7 606.4)"/>
<ellipse cx="682.7" cy="606.4" rx="8.0" ry="19.5" fill="none" stroke="#d6d6d6" stroke-width="2.5" transform="rotate(13.0 682.7 606.4)"/>
<ellipse cx="682.7" cy="606.4" rx="8.0" ry="19.5" fill="none" stroke="#ffffff" stroke-width="1.0" transform="rotate(13.0 682.7 606.4)"/>
<ellipse cx="691.5" cy="603.5" rx="8.0" ry="19.5" fill="none" stroke="#5c5c5c" stroke-width="4.7" transform="rotate(13.0 691.5 603.5)"/>
<ellipse cx="691.5" cy="603.5" rx="8.0" ry="19.5" fill="none" stroke="#d6d6d6" stroke-width="2.5" transform="rotate(13.0 691.5 603.5)"/>
<ellipse cx="691.5" cy="603.5" rx="8.0" ry="19.5" fill="none" stroke="#ffffff" stroke-width="1.0" transform="rotate(13.0 691.5 603.5)"/>
<path d="M555,718.5 Q553,722.5 558,721.5 L620,699 Q629,696 633.5,689.5 L682,622 Q686,612 684,601" fill="none" stroke="#5e5e5e" stroke-width="5.00" stroke-linecap="round" stroke-linejoin="round"/>
<path d="M555,718.5 Q553,722.5 558,721.5 L620,699 Q629,696 633.5,689.5 L682,622 Q686,612 684,601" fill="none" stroke="#c4c4c4" stroke-width="3.40" stroke-linecap="round" stroke-linejoin="round"/>
<path d="M555,718.5 Q553,722.5 558,721.5 L620,699 Q629,696 633.5,689.5 L682,622 Q686,612 684,601" fill="none" stroke="#ffffff" stroke-width="1.28" stroke-linecap="round" stroke-linejoin="round"/>
<polygon points="435.0,497.0 1199.0,218.0 1205.0,370.0 430.0,647.0" fill="url(#gA)" />
<polygon points="431.0,499.0 435.0,497.0 430.0,647.0 426.0,650.0" fill="#3c3c3c" />
<polygon points="1199.0,218.0 1210.0,216.0 1212.0,371.0 1205.0,370.0" fill="url(#gcs)" />
<polygon points="1210.0,216.0 1648.0,660.0 1654.5,803.0 1212.0,371.0" fill="url(#gB)" />
<line x1="1212.0" y1="371.0" x2="1653.0" y2="803.0" stroke="#161616" stroke-width="2.00" />
<line x1="430.0" y1="647.0" x2="1205.0" y2="370.0" stroke="#1e1e1e" stroke-width="1.50" />
<ellipse cx="801.0" cy="431.0" rx="7.2" ry="7.6" fill="#101010" />
<ellipse cx="1439.6" cy="520.5" rx="3.6" ry="7.5" fill="#1a1a1a" transform="rotate(-20.0 1439.6 520.5)" />
<path d="M1436,547 L1436,586 L1446,594 L1446,556" fill="none" stroke="#1c1c1c" stroke-width="1.30" />
<ellipse cx="1691.0" cy="783.0" rx="16.0" ry="15.5" fill="none" stroke="#5c5c5c" stroke-width="4.6" transform="rotate(-30.0 1691.0 783.0)"/>
<ellipse cx="1691.0" cy="783.0" rx="16.0" ry="15.5" fill="none" stroke="#d6d6d6" stroke-width="2.4" transform="rotate(-30.0 1691.0 783.0)"/>
<ellipse cx="1691.0" cy="783.0" rx="16.0" ry="15.5" fill="none" stroke="#ffffff" stroke-width="1.0" transform="rotate(-30.0 1691.0 783.0)"/>
<ellipse cx="1687.1" cy="778.8" rx="16.0" ry="15.5" fill="none" stroke="#5c5c5c" stroke-width="4.6" transform="rotate(-30.0 1687.1 778.8)"/>
<ellipse cx="1687.1" cy="778.8" rx="16.0" ry="15.5" fill="none" stroke="#d6d6d6" stroke-width="2.4" transform="rotate(-30.0 1687.1 778.8)"/>
<ellipse cx="1687.1" cy="778.8" rx="16.0" ry="15.5" fill="none" stroke="#ffffff" stroke-width="1.0" transform="rotate(-30.0 1687.1 778.8)"/>
<ellipse cx="1683.2" cy="774.7" rx="16.0" ry="15.5" fill="none" stroke="#5c5c5c" stroke-width="4.6" transform="rotate(-30.0 1683.2 774.7)"/>
<ellipse cx="1683.2" cy="774.7" rx="16.0" ry="15.5" fill="none" stroke="#d6d6d6" stroke-width="2.4" transform="rotate(-30.0 1683.2 774.7)"/>
<ellipse cx="1683.2" cy="774.7" rx="16.0" ry="15.5" fill="none" stroke="#ffffff" stroke-width="1.0" transform="rotate(-30.0 1683.2 774.7)"/>
<ellipse cx="1679.2" cy="770.5" rx="16.0" ry="15.5" fill="none" stroke="#5c5c5c" stroke-width="4.6" transform="rotate(-30.0 1679.2 770.5)"/>
<ellipse cx="1679.2" cy="770.5" rx="16.0" ry="15.5" fill="none" stroke="#d6d6d6" stroke-width="2.4" transform="rotate(-30.0 1679.2 770.5)"/>
<ellipse cx="1679.2" cy="770.5" rx="16.0" ry="15.5" fill="none" stroke="#ffffff" stroke-width="1.0" transform="rotate(-30.0 1679.2 770.5)"/>
<ellipse cx="1675.3" cy="766.4" rx="16.0" ry="15.5" fill="none" stroke="#5c5c5c" stroke-width="4.6" transform="rotate(-30.0 1675.3 766.4)"/>
<ellipse cx="1675.3" cy="766.4" rx="16.0" ry="15.5" fill="none" stroke="#d6d6d6" stroke-width="2.4" transform="rotate(-30.0 1675.3 766.4)"/>
<ellipse cx="1675.3" cy="766.4" rx="16.0" ry="15.5" fill="none" stroke="#ffffff" stroke-width="1.0" transform="rotate(-30.0 1675.3 766.4)"/>
<ellipse cx="1671.4" cy="762.2" rx="16.0" ry="15.5" fill="none" stroke="#5c5c5c" stroke-width="4.6" transform="rotate(-30.0 1671.4 762.2)"/>
<ellipse cx="1671.4" cy="762.2" rx="16.0" ry="15.5" fill="none" stroke="#d6d6d6" stroke-width="2.4" transform="rotate(-30.0 1671.4 762.2)"/>
<ellipse cx="1671.4" cy="762.2" rx="16.0" ry="15.5" fill="none" stroke="#ffffff" stroke-width="1.0" transform="rotate(-30.0 1671.4 762.2)"/>
<ellipse cx="1667.5" cy="758.0" rx="16.0" ry="15.5" fill="none" stroke="#5c5c5c" stroke-width="4.6" transform="rotate(-30.0 1667.5 758.0)"/>
<ellipse cx="1667.5" cy="758.0" rx="16.0" ry="15.5" fill="none" stroke="#d6d6d6" stroke-width="2.4" transform="rotate(-30.0 1667.5 758.0)"/>
<ellipse cx="1667.5" cy="758.0" rx="16.0" ry="15.5" fill="none" stroke="#ffffff" stroke-width="1.0" transform="rotate(-30.0 1667.5 758.0)"/>
<ellipse cx="1663.6" cy="753.9" rx="16.0" ry="15.5" fill="none" stroke="#5c5c5c" stroke-width="4.6" transform="rotate(-30.0 1663.6 753.9)"/>
<ellipse cx="1663.6" cy="753.9" rx="16.0" ry="15.5" fill="none" stroke="#d6d6d6" stroke-width="2.4" transform="rotate(-30.0 1663.6 753.9)"/>
<ellipse cx="1663.6" cy="753.9" rx="16.0" ry="15.5" fill="none" stroke="#ffffff" stroke-width="1.0" transform="rotate(-30.0 1663.6 753.9)"/>
<ellipse cx="1659.6" cy="749.7" rx="16.0" ry="15.5" fill="none" stroke="#5c5c5c" stroke-width="4.6" transform="rotate(-30.0 1659.6 749.7)"/>
<ellipse cx="1659.6" cy="749.7" rx="16.0" ry="15.5" fill="none" stroke="#d6d6d6" stroke-width="2.4" transform="rotate(-30.0 1659.6 749.7)"/>
<ellipse cx="1659.6" cy="749.7" rx="16.0" ry="15.5" fill="none" stroke="#ffffff" stroke-width="1.0" transform="rotate(-30.0 1659.6 749.7)"/>
<ellipse cx="1655.7" cy="745.6" rx="16.0" ry="15.5" fill="none" stroke="#5c5c5c" stroke-width="4.6" transform="rotate(-30.0 1655.7 745.6)"/>
<ellipse cx="1655.7" cy="745.6" rx="16.0" ry="15.5" fill="none" stroke="#d6d6d6" stroke-width="2.4" transform="rotate(-30.0 1655.7 745.6)"/>
<ellipse cx="1655.7" cy="745.6" rx="16.0" ry="15.5" fill="none" stroke="#ffffff" stroke-width="1.0" transform="rotate(-30.0 1655.7 745.6)"/>
<ellipse cx="1651.8" cy="741.4" rx="16.0" ry="15.5" fill="none" stroke="#5c5c5c" stroke-width="4.6" transform="rotate(-30.0 1651.8 741.4)"/>
<ellipse cx="1651.8" cy="741.4" rx="16.0" ry="15.5" fill="none" stroke="#d6d6d6" stroke-width="2.4" transform="rotate(-30.0 1651.8 741.4)"/>
<ellipse cx="1651.8" cy="741.4" rx="16.0" ry="15.5" fill="none" stroke="#ffffff" stroke-width="1.0" transform="rotate(-30.0 1651.8 741.4)"/>
<path d="M1646.6,755 Q1652,758 1664,756.5 Q1676,758 1683,767 L1788,888" fill="none" stroke="#5e5e5e" stroke-width="5.60" stroke-linecap="round" stroke-linejoin="round"/>
<path d="M1646.6,755 Q1652,758 1664,756.5 Q1676,758 1683,767 L1788,888" fill="none" stroke="#c4c4c4" stroke-width="4.00" stroke-linecap="round" stroke-linejoin="round"/>
<path d="M1646.6,755 Q1652,758 1664,756.5 Q1676,758 1683,767 L1788,888" fill="none" stroke="#ffffff" stroke-width="1.47" stroke-linecap="round" stroke-linejoin="round"/>
<path d="M1750,850 L1788.5,888.5" fill="none" stroke="#6a6a6a" stroke-width="7.40" stroke-linecap="round"/>
<path d="M1750,850 L1788.5,888.5" fill="none" stroke="#cfcfcf" stroke-width="5.60" stroke-linecap="round"/>
<path d="M1751,849 L1787,885" fill="none" stroke="#ffffff" stroke-width="1.60" stroke-linecap="round"/>
<polygon points="446.0,1026.0 1243.0,770.0 1660.0,1150.0 1548.0,1212.0 900.0,1420.0 540.0,1130.0" fill="#333333" />
<polygon points="756.0,918.0 1230.0,774.0 1385.0,921.0 936.0,1062.0" fill="url(#gplate)" />
<polygon points="1140.0,1000.0 1403.0,913.0 1440.0,960.0 1180.0,1060.0" fill="url(#gfw)" />
<polygon points="531.0,1000.0 756.0,918.0 882.0,1019.0 700.0,1100.0 618.0,1072.0" fill="#323232" />
<polygon points="745.0,921.5 756.0,918.0 890.0,1025.0 878.0,1030.0" fill="#161616" />
<polygon points="446.0,1026.0 531.0,1000.0 618.0,1072.0 618.0,1036.0 622.0,1033.0 651.0,1056.0 651.0,1074.0 646.0,1076.0 640.0,1071.0 640.0,1090.0 671.0,1096.0 671.0,1077.0 676.0,1075.0 700.0,1092.0 700.0,1140.0 560.0,1140.0" fill="url(#gmw)" />
<polygon points="775.6,931.8 1033.3,846.3 1091.0,898.0 1100.0,930.0 1140.0,960.0 880.0,1040.0 880.0,1015.0 836.6,979.8" fill="url(#gm1)" mask="url(#bm3)"/>
<ellipse cx="806.6" cy="941.5" rx="16.0" ry="11.5" fill="#ffffff" transform="rotate(-18.0 806.6 941.5)" opacity="0.42" filter="url(#b4)"/>
<polygon points="798.8,941.2 809.7,937.3 814.4,941.8 803.5,945.7" fill="#ffffff" stroke="#ffffff" stroke-width="8.0" stroke-linejoin="round" filter="url(#b1)"/>
<ellipse cx="864.6" cy="922.8" rx="16.0" ry="11.5" fill="#ffffff" transform="rotate(-18.0 864.6 922.8)" opacity="0.42" filter="url(#b4)"/>
<polygon points="856.8,922.5 867.7,918.6 872.4,923.1 861.5,927.0" fill="#ffffff" stroke="#ffffff" stroke-width="8.0" stroke-linejoin="round" filter="url(#b1)"/>
<ellipse cx="937.0" cy="923.9" rx="16.0" ry="11.5" fill="#ffffff" transform="rotate(-18.0 937.0 923.9)" opacity="0.42" filter="url(#b4)"/>
<polygon points="929.2,923.6 940.1,919.7 944.8,924.2 933.9,928.1" fill="#ffffff" stroke="#ffffff" stroke-width="8.0" stroke-linejoin="round" filter="url(#b1)"/>
<ellipse cx="966.0" cy="888.3" rx="16.0" ry="11.5" fill="#ffffff" transform="rotate(-18.0 966.0 888.3)" opacity="0.42" filter="url(#b4)"/>
<polygon points="958.2,888.0 969.1,884.1 973.8,888.6 962.9,892.5" fill="#ffffff" stroke="#ffffff" stroke-width="8.0" stroke-linejoin="round" filter="url(#b1)"/>
<ellipse cx="1025.0" cy="869.6" rx="16.0" ry="11.5" fill="#ffffff" transform="rotate(-18.0 1025.0 869.6)" opacity="0.42" filter="url(#b4)"/>
<polygon points="1017.2,869.3 1028.1,865.4 1032.8,869.9 1021.9,873.8" fill="#ffffff" stroke="#ffffff" stroke-width="8.0" stroke-linejoin="round" filter="url(#b1)"/>
<ellipse cx="1060.0" cy="900.7" rx="16.0" ry="11.5" fill="#ffffff" transform="rotate(-18.0 1060.0 900.7)" opacity="0.42" filter="url(#b4)"/>
<polygon points="1052.2,900.4 1063.1,896.5 1067.8,901.0 1056.9,904.9" fill="#ffffff" stroke="#ffffff" stroke-width="8.0" stroke-linejoin="round" filter="url(#b1)"/>
<ellipse cx="996.0" cy="935.9" rx="16.0" ry="11.5" fill="#ffffff" transform="rotate(-18.0 996.0 935.9)" opacity="0.42" filter="url(#b4)"/>
<polygon points="988.2,935.6 999.1,931.7 1003.8,936.2 992.9,940.1" fill="#ffffff" stroke="#ffffff" stroke-width="8.0" stroke-linejoin="round" filter="url(#b1)"/>
<ellipse cx="1056.0" cy="938.8" rx="16.0" ry="11.5" fill="#ffffff" transform="rotate(-18.0 1056.0 938.8)" opacity="0.42" filter="url(#b4)"/>
<polygon points="1048.2,938.5 1059.1,934.6 1063.8,939.1 1052.9,943.0" fill="#ffffff" stroke="#ffffff" stroke-width="8.0" stroke-linejoin="round" filter="url(#b1)"/>
<ellipse cx="936.0" cy="956.0" rx="16.0" ry="11.5" fill="#ffffff" transform="rotate(-18.0 936.0 956.0)" opacity="0.42" filter="url(#b4)"/>
<polygon points="928.2,955.7 939.1,951.8 943.8,956.3 932.9,960.2" fill="#ffffff" stroke="#ffffff" stroke-width="8.0" stroke-linejoin="round" filter="url(#b1)"/>
<ellipse cx="1033.3" cy="967.4" rx="16.0" ry="11.5" fill="#ffffff" transform="rotate(-18.0 1033.3 967.4)" opacity="0.42" filter="url(#b4)"/>
<polygon points="1025.5,967.1 1036.4,963.2 1041.1,967.7 1030.2,971.6" fill="#ffffff" stroke="#ffffff" stroke-width="8.0" stroke-linejoin="round" filter="url(#b1)"/>
<ellipse cx="909.0" cy="985.0" rx="16.0" ry="11.5" fill="#ffffff" transform="rotate(-18.0 909.0 985.0)" opacity="0.42" filter="url(#b4)"/>
<polygon points="901.2,984.7 912.1,980.8 916.8,985.3 905.9,989.2" fill="#ffffff" stroke="#ffffff" stroke-width="8.0" stroke-linejoin="round" filter="url(#b1)"/>
<ellipse cx="973.2" cy="986.0" rx="16.0" ry="11.5" fill="#ffffff" transform="rotate(-18.0 973.2 986.0)" opacity="0.42" filter="url(#b4)"/>
<polygon points="965.4,985.7 976.3,981.8 981.0,986.3 970.1,990.2" fill="#ffffff" stroke="#ffffff" stroke-width="8.0" stroke-linejoin="round" filter="url(#b1)"/>
<ellipse cx="845.0" cy="939.4" rx="8.2" ry="4.6" fill="#1a1a1a" transform="rotate(-8.0 845.0 939.4)" />
<ellipse cx="1014.6" cy="884.0" rx="8.2" ry="4.6" fill="#1a1a1a" transform="rotate(-8.0 1014.6 884.0)" />
<polygon points="813.0,957.0 826.0,952.0 853.0,972.0 840.0,978.0" fill="#efefef" />
<polygon points="813.0,957.0 815.0,964.0 840.0,985.0 840.0,978.0" fill="#c6c6c6" />
<ellipse cx="911.0" cy="897.0" rx="3.5" ry="2.5" fill="#333" />
<polygon points="1119.0,818.8 1217.4,787.7 1226.0,783.0 1237.6,793.5 1369.7,918.8 1370.8,923.3 1272.9,955.2 1216.0,904.0 1190.0,880.0 1160.0,855.0" fill="url(#gm2)" mask="url(#bm4)"/>
<ellipse cx="1151.4" cy="829.7" rx="16.0" ry="11.5" fill="#ffffff" transform="rotate(-18.0 1151.4 829.7)" opacity="0.42" filter="url(#b4)"/>
<polygon points="1143.6,829.4 1154.5,825.5 1159.2,830.0 1148.3,833.9" fill="#ffffff" stroke="#ffffff" stroke-width="8.0" stroke-linejoin="round" filter="url(#b1)"/>
<ellipse cx="1211.3" cy="809.0" rx="16.0" ry="11.5" fill="#ffffff" transform="rotate(-18.0 1211.3 809.0)" opacity="0.42" filter="url(#b4)"/>
<polygon points="1203.5,808.7 1214.4,804.8 1219.1,809.3 1208.2,813.2" fill="#ffffff" stroke="#ffffff" stroke-width="8.0" stroke-linejoin="round" filter="url(#b1)"/>
<ellipse cx="1282.6" cy="844.2" rx="16.0" ry="11.5" fill="#ffffff" transform="rotate(-18.0 1282.6 844.2)" opacity="0.42" filter="url(#b4)"/>
<polygon points="1274.8,843.9 1285.7,840.0 1290.4,844.5 1279.5,848.4" fill="#ffffff" stroke="#ffffff" stroke-width="8.0" stroke-linejoin="round" filter="url(#b1)"/>
<ellipse cx="1252.7" cy="875.7" rx="16.0" ry="11.5" fill="#ffffff" transform="rotate(-18.0 1252.7 875.7)" opacity="0.42" filter="url(#b4)"/>
<polygon points="1244.9,875.4 1255.8,871.5 1260.5,876.0 1249.6,879.9" fill="#ffffff" stroke="#ffffff" stroke-width="8.0" stroke-linejoin="round" filter="url(#b1)"/>
<ellipse cx="1318.4" cy="877.2" rx="16.0" ry="11.5" fill="#ffffff" transform="rotate(-18.0 1318.4 877.2)" opacity="0.42" filter="url(#b4)"/>
<polygon points="1310.6,876.9 1321.5,873.0 1326.2,877.5 1315.3,881.4" fill="#ffffff" stroke="#ffffff" stroke-width="8.0" stroke-linejoin="round" filter="url(#b1)"/>
<ellipse cx="1247.8" cy="915.0" rx="16.0" ry="11.5" fill="#ffffff" transform="rotate(-18.0 1247.8 915.0)" opacity="0.42" filter="url(#b4)"/>
<polygon points="1240.0,914.7 1250.9,910.8 1255.6,915.3 1244.7,919.2" fill="#ffffff" stroke="#ffffff" stroke-width="8.0" stroke-linejoin="round" filter="url(#b1)"/>
<ellipse cx="1341.2" cy="925.6" rx="16.0" ry="11.5" fill="#ffffff" transform="rotate(-18.0 1341.2 925.6)" opacity="0.42" filter="url(#b4)"/>
<polygon points="1333.4,925.3 1344.3,921.4 1349.0,925.9 1338.1,929.8" fill="#ffffff" stroke="#ffffff" stroke-width="8.0" stroke-linejoin="round" filter="url(#b1)"/>
<ellipse cx="1281.5" cy="946.0" rx="16.0" ry="11.5" fill="#ffffff" transform="rotate(-18.0 1281.5 946.0)" opacity="0.42" filter="url(#b4)"/>
<polygon points="1273.7,945.7 1284.6,941.8 1289.3,946.3 1278.4,950.2" fill="#ffffff" stroke="#ffffff" stroke-width="8.0" stroke-linejoin="round" filter="url(#b1)"/>
<ellipse cx="1189.5" cy="827.3" rx="8.2" ry="4.6" fill="#1a1a1a" transform="rotate(-8.0 1189.5 827.3)" />
<ellipse cx="1291.5" cy="918.2" rx="8.2" ry="4.6" fill="#1a1a1a" transform="rotate(-8.0 1291.5 918.2)" />
<polygon points="1154.0,836.0 1166.0,832.0 1196.0,858.0 1183.0,863.0" fill="#efefef" />
<polygon points="1154.0,836.0 1156.0,843.0 1183.0,870.0 1183.0,863.0" fill="#c6c6c6" />
<text x="1329" y="911.5" font-family="Liberation Sans, sans-serif" font-size="6.5" fill="#555" transform="rotate(-16 1329 911.5)">GL-1R5M</text>
<path d="M1186,864 C1202,880 1210,894 1196,906 C1176,920 1130,920 1112,934 C1104,944 1108,954 1114,962" fill="none" stroke="#b9b9b9" stroke-width="12.00" stroke-linecap="round" stroke-linejoin="round"/>
<path d="M1186,864 C1202,880 1210,894 1196,906 C1176,920 1130,920 1112,934 C1104,944 1108,954 1114,962" fill="none" stroke="#e9e9e9" stroke-width="9.00" stroke-linecap="round" stroke-linejoin="round"/>
<polygon points="1100.0,946.0 1130.0,936.0 1142.0,946.0 1112.0,958.0" fill="#e6e6e6" />
<path d="M391,1014 L1215,741 L1223,743 L1240,766 L1237.6,793.5 Q1230,778 1214.3,776 L1155.3,787 L1000,836.6 L570,976.3 L452,1017.5 Z" fill="url(#glip)" stroke="none" stroke-width="1.00" />
<path d="M391,1014 L452,1017.5 Q441,1022 447,1031 L570,1125 L540,1130 Z" fill="url(#glipl)" stroke="none" stroke-width="1.00" />
<polygon points="1223.0,743.0 1688.0,1167.0 1676.0,1171.0 1632.0,1167.0 1237.6,793.5 1236.0,770.0" fill="url(#glipr)" />
<polygon points="1632.0,1167.0 1676.0,1171.0 1688.0,1167.0 1548.0,1212.0 1538.0,1197.0" fill="#343434" />
<path d="M1566,1094 L1630,1152 Q1638,1160 1630,1166 L1537,1197 L1473,1122 Z" fill="#363636" stroke="none" stroke-width="1.00" />
<polygon points="1049.0,820.5 1100.0,803.5 1155.0,787.0 1200.0,777.5 1216.0,775.5 1224.5,780.0 1223.0,786.5 1155.0,800.5 1100.0,812.5" fill="#ececec" />
<polygon points="1049.0,820.5 1100.0,809.5 1155.0,796.0 1223.5,783.5 1223.0,786.5 1155.0,800.5 1100.0,812.5" fill="#c2c2c2" />
<polygon points="398.0,901.0 1213.0,628.0 1215.0,741.0 391.0,1014.0" fill="url(#gF)" />
<polygon points="725.2,792.0 725.2,756.3 757.3,745.9 757.3,773.9 829.8,750.0 829.8,733.5 812.7,738.7 812.7,716.0 858.5,702.4 862.4,705.5 862.4,746.0" fill="url(#gF)" />
<polygon points="756.3,737.0 776.0,731.4 776.0,755.2 757.3,762.0" fill="#9b9b9b" />
<polygon points="394.0,903.0 398.0,901.0 391.0,1014.0 388.0,1016.0" fill="#2a2a2a" />
<ellipse cx="835.0" cy="830.0" rx="15.0" ry="13.0" fill="#4a4a4a" transform="rotate(-20.0 835.0 830.0)" opacity="0.75" filter="url(#b4)"/>
<ellipse cx="791.0" cy="787.0" rx="9.8" ry="10.9" fill="#3a3a3a" transform="rotate(10.0 791.0 787.0)" />
<ellipse cx="792.5" cy="787.0" rx="9.0" ry="10.5" fill="#c6c6c6" transform="rotate(10.0 792.5 787.0)" />
<polygon points="1213.0,628.0 1222.0,629.0 1223.0,743.0 1215.0,741.0" fill="url(#gmcs)" />
<polygon points="1222.0,629.0 1681.0,1058.0 1688.0,1167.0 1223.0,743.0" fill="url(#gR)" />
<polygon points="1422.0,817.0 1421.5,778.5 1425.5,776.0 1451.5,801.0 1451.5,812.5 1441.6,812.5 1441.6,830.0 1470.0,850.0 1470.0,821.0 1482.0,818.5 1495.0,839.5 1498.0,844.0 1498.0,888.0" fill="url(#gR)" />
<ellipse cx="1414.0" cy="889.0" rx="16.0" ry="12.0" fill="#2e2e2e" transform="rotate(30.0 1414.0 889.0)" opacity="0.8" filter="url(#b4)"/>
<ellipse cx="1462.8" cy="871.0" rx="4.2" ry="8.4" fill="#2a2a2a" transform="rotate(-18.0 1462.8 871.0)" />
<ellipse cx="1463.6" cy="871.0" rx="3.6" ry="7.8" fill="#b4b4b4" transform="rotate(-18.0 1463.6 871.0)" />
<line x1="1223.0" y1="744.0" x2="1688.0" y2="1168.0" stroke="#1c1c1c" stroke-width="3.40" />
<line x1="1223.0" y1="743.0" x2="1688.0" y2="1167.0" stroke="#858585" stroke-width="2.20" />
<line x1="1688.0" y1="1169.0" x2="1548.0" y2="1212.0" stroke="#8a8a8a" stroke-width="1.10" />
<line x1="391.0" y1="1014.0" x2="1215.0" y2="741.0" stroke="#1a1a1a" stroke-width="1.50" />
<polygon points="1441.0,819.7 1463.9,822.8 1481.4,848.7 1481.0,864.2 1441.0,828.0" fill="#d4d4d4" />
<polygon points="1441.0,819.7 1463.9,822.8 1470.0,832.0 1444.0,827.0" fill="#eeeeee" />
<polygon points="1478.0,820.0 1484.0,817.5 1537.5,871.5 1520.0,862.0 1498.0,845.0" fill="#e6e6e6" />
<polygon points="1498.0,862.0 1520.0,857.0 1537.5,871.5 1533.5,876.0 1502.0,884.5 1498.0,880.0" fill="#cfcfcf" />
<ellipse cx="1507.0" cy="873.2" rx="16.0" ry="11.5" fill="#ffffff" transform="rotate(-18.0 1507.0 873.2)" opacity="0.67" filter="url(#b4)"/>
<polygon points="1499.2,872.9 1510.1,869.0 1514.8,873.5 1503.9,877.4" fill="#ffffff" stroke="#ffffff" stroke-width="8.0" stroke-linejoin="round" filter="url(#b1)"/>
<g transform="translate(1549.8 848.7) rotate(164.0) scale(1.05)">
<path d="M4,-4.5 L30,-2 L36,0 L30,2.5 L4,5 Z" fill="#9aa0a6"/>
<path d="M9.0,-6 L12.0,6" stroke="#e8ecef" stroke-width="2.2" stroke-linecap="round"/>
<path d="M11.5,-5 L14.5,6" stroke="#5d6166" stroke-width="1"/>
<path d="M14.2,-6 L17.2,6" stroke="#e8ecef" stroke-width="2.2" stroke-linecap="round"/>
<path d="M16.7,-5 L19.7,6" stroke="#5d6166" stroke-width="1"/>
<path d="M19.4,-6 L22.4,6" stroke="#e8ecef" stroke-width="2.2" stroke-linecap="round"/>
<path d="M21.9,-5 L24.9,6" stroke="#5d6166" stroke-width="1"/>
<path d="M24.6,-6 L27.6,6" stroke="#e8ecef" stroke-width="2.2" stroke-linecap="round"/>
<path d="M27.1,-5 L30.1,6" stroke="#5d6166" stroke-width="1"/>
<path d="M29.8,-6 L32.8,6" stroke="#e8ecef" stroke-width="2.2" stroke-linecap="round"/>
<path d="M32.3,-5 L35.3,6" stroke="#5d6166" stroke-width="1"/>
<ellipse cx="3" cy="0" rx="8.1" ry="15.5" fill="#8d9398"/>
<ellipse cx="0" cy="0" rx="9.5" ry="16" fill="#dfe3e6"/>
<ellipse cx="-1" cy="-1" rx="7.1" ry="13" fill="#f3f5f6"/>
<path d="M-1.0,-8 L-1.0,8 M-7.3,-1 L5.3,1" stroke="#7d838a" stroke-width="2.4" stroke-linecap="round" fill="none"/>
</g>
<g transform="translate(739.7 746.4) rotate(40.0) scale(1.08)">
<path d="M4,-4.5 L30,-2 L36,0 L30,2.5 L4,5 Z" fill="#9aa0a6"/>
<path d="M9.0,-6 L12.0,6" stroke="#e8ecef" stroke-width="2.2" stroke-linecap="round"/>
<path d="M11.5,-5 L14.5,6" stroke="#5d6166" stroke-width="1"/>
<path d="M14.2,-6 L17.2,6" stroke="#e8ecef" stroke-width="2.2" stroke-linecap="round"/>
<path d="M16.7,-5 L19.7,6" stroke="#5d6166" stroke-width="1"/>
<path d="M19.4,-6 L22.4,6" stroke="#e8ecef" stroke-width="2.2" stroke-linecap="round"/>
<path d="M21.9,-5 L24.9,6" stroke="#5d6166" stroke-width="1"/>
<path d="M24.6,-6 L27.6,6" stroke="#e8ecef" stroke-width="2.2" stroke-linecap="round"/>
<path d="M27.1,-5 L30.1,6" stroke="#5d6166" stroke-width="1"/>
<path d="M29.8,-6 L32.8,6" stroke="#e8ecef" stroke-width="2.2" stroke-linecap="round"/>
<path d="M32.3,-5 L35.3,6" stroke="#5d6166" stroke-width="1"/>
<ellipse cx="3" cy="0" rx="11.9" ry="15.5" fill="#8d9398"/>
<ellipse cx="0" cy="0" rx="14.0" ry="16" fill="#dfe3e6"/>
<ellipse cx="-1" cy="-1" rx="10.5" ry="13" fill="#f3f5f6"/>
<path d="M-1.0,-8 L-1.0,8 M-10.3,-1 L8.3,1" stroke="#7d838a" stroke-width="2.4" stroke-linecap="round" fill="none"/>
</g>
<ellipse cx="1210.0" cy="645.0" rx="14.0" ry="9.0" fill="#ffffff" transform="rotate(-18.0 1210.0 645.0)" opacity="0.5" filter="url(#b4)"/>
<ellipse cx="495.0" cy="1144.5" rx="12.0" ry="13.2" fill="none" stroke="#5c5c5c" stroke-width="4.5" transform="rotate(-20.0 495.0 1144.5)"/>
<ellipse cx="495.0" cy="1144.5" rx="12.0" ry="13.2" fill="none" stroke="#d6d6d6" stroke-width="2.3" transform="rotate(-20.0 495.0 1144.5)"/>
<ellipse cx="495.0" cy="1144.5" rx="12.0" ry="13.2" fill="none" stroke="#ffffff" stroke-width="1.0" transform="rotate(-20.0 495.0 1144.5)"/>
<ellipse cx="489.6" cy="1142.4" rx="12.4" ry="13.6" fill="none" stroke="#5c5c5c" stroke-width="4.5" transform="rotate(-20.0 489.6 1142.4)"/>
<ellipse cx="489.6" cy="1142.4" rx="12.4" ry="13.6" fill="none" stroke="#d6d6d6" stroke-width="2.3" transform="rotate(-20.0 489.6 1142.4)"/>
<ellipse cx="489.6" cy="1142.4" rx="12.4" ry="13.6" fill="none" stroke="#ffffff" stroke-width="1.0" transform="rotate(-20.0 489.6 1142.4)"/>
<ellipse cx="484.2" cy="1140.3" rx="12.8" ry="14.0" fill="none" stroke="#5c5c5c" stroke-width="4.5" transform="rotate(-20.0 484.2 1140.3)"/>
<ellipse cx="484.2" cy="1140.3" rx="12.8" ry="14.0" fill="none" stroke="#d6d6d6" stroke-width="2.3" transform="rotate(-20.0 484.2 1140.3)"/>
<ellipse cx="484.2" cy="1140.3" rx="12.8" ry="14.0" fill="none" stroke="#ffffff" stroke-width="1.0" transform="rotate(-20.0 484.2 1140.3)"/>
<ellipse cx="478.9" cy="1138.2" rx="13.1" ry="14.4" fill="none" stroke="#5c5c5c" stroke-width="4.5" transform="rotate(-20.0 478.9 1138.2)"/>
<ellipse cx="478.9" cy="1138.2" rx="13.1" ry="14.4" fill="none" stroke="#d6d6d6" stroke-width="2.3" transform="rotate(-20.0 478.9 1138.2)"/>
<ellipse cx="478.9" cy="1138.2" rx="13.1" ry="14.4" fill="none" stroke="#ffffff" stroke-width="1.0" transform="rotate(-20.0 478.9 1138.2)"/>
<ellipse cx="473.5" cy="1136.0" rx="13.5" ry="14.8" fill="none" stroke="#5c5c5c" stroke-width="4.5" transform="rotate(-20.0 473.5 1136.0)"/>
<ellipse cx="473.5" cy="1136.0" rx="13.5" ry="14.8" fill="none" stroke="#d6d6d6" stroke-width="2.3" transform="rotate(-20.0 473.5 1136.0)"/>
<ellipse cx="473.5" cy="1136.0" rx="13.5" ry="14.8" fill="none" stroke="#ffffff" stroke-width="1.0" transform="rotate(-20.0 473.5 1136.0)"/>
<ellipse cx="468.1" cy="1133.9" rx="13.9" ry="15.3" fill="none" stroke="#5c5c5c" stroke-width="4.5" transform="rotate(-20.0 468.1 1133.9)"/>
<ellipse cx="468.1" cy="1133.9" rx="13.9" ry="15.3" fill="none" stroke="#d6d6d6" stroke-width="2.3" transform="rotate(-20.0 468.1 1133.9)"/>
<ellipse cx="468.1" cy="1133.9" rx="13.9" ry="15.3" fill="none" stroke="#ffffff" stroke-width="1.0" transform="rotate(-20.0 468.1 1133.9)"/>
<ellipse cx="462.8" cy="1131.8" rx="14.2" ry="15.7" fill="none" stroke="#5c5c5c" stroke-width="4.5" transform="rotate(-20.0 462.8 1131.8)"/>
<ellipse cx="462.8" cy="1131.8" rx="14.2" ry="15.7" fill="none" stroke="#d6d6d6" stroke-width="2.3" transform="rotate(-20.0 462.8 1131.8)"/>
<ellipse cx="462.8" cy="1131.8" rx="14.2" ry="15.7" fill="none" stroke="#ffffff" stroke-width="1.0" transform="rotate(-20.0 462.8 1131.8)"/>
<ellipse cx="457.4" cy="1129.7" rx="14.6" ry="16.1" fill="none" stroke="#5c5c5c" stroke-width="4.5" transform="rotate(-20.0 457.4 1129.7)"/>
<ellipse cx="457.4" cy="1129.7" rx="14.6" ry="16.1" fill="none" stroke="#d6d6d6" stroke-width="2.3" transform="rotate(-20.0 457.4 1129.7)"/>
<ellipse cx="457.4" cy="1129.7" rx="14.6" ry="16.1" fill="none" stroke="#ffffff" stroke-width="1.0" transform="rotate(-20.0 457.4 1129.7)"/>
<ellipse cx="452.0" cy="1127.6" rx="15.0" ry="16.5" fill="none" stroke="#5c5c5c" stroke-width="4.5" transform="rotate(-20.0 452.0 1127.6)"/>
<ellipse cx="452.0" cy="1127.6" rx="15.0" ry="16.5" fill="none" stroke="#d6d6d6" stroke-width="2.3" transform="rotate(-20.0 452.0 1127.6)"/>
<ellipse cx="452.0" cy="1127.6" rx="15.0" ry="16.5" fill="none" stroke="#ffffff" stroke-width="1.0" transform="rotate(-20.0 452.0 1127.6)"/>
<path d="M419,1310 L476,1200" fill="none" stroke="#5e5e5e" stroke-width="4.90" stroke-linecap="round" stroke-linejoin="round"/>
<path d="M419,1310 L476,1200" fill="none" stroke="#c4c4c4" stroke-width="3.30" stroke-linecap="round" stroke-linejoin="round"/>
<path d="M419,1310 L476,1200" fill="none" stroke="#ffffff" stroke-width="1.25" stroke-linecap="round" stroke-linejoin="round"/>
<polygon points="419.0,1170.0 1213.0,919.0 1661.0,1313.0 1661.0,1320.0 909.0,1531.0 419.0,1177.0" fill="url(#gD)" />
<polygon points="600.0,1310.0 1207.0,1150.0 1480.0,1370.0 909.0,1531.0" fill="url(#gD2)" />
<polygon points="419.0,1170.0 1213.0,919.0 1216.0,925.0 423.0,1175.0" fill="#d9d9d9" />
<polygon points="1213.0,919.0 1661.0,1313.0 1655.0,1315.0 1216.0,925.0" fill="#dcdcdc" />
<polygon points="1661.0,1313.0 1661.0,1320.0 1586.0,1341.0 1586.0,1335.0" fill="#cfcfcf" />
<path d="M437,1126 Q435,1136 440,1143 L371.5,1277 Q369,1283 374,1287 L410,1313 Q416,1316 419,1310 L425,1298" fill="none" stroke="#5e5e5e" stroke-width="4.90" stroke-linecap="round" stroke-linejoin="round"/>
<path d="M437,1126 Q435,1136 440,1143 L371.5,1277 Q369,1283 374,1287 L410,1313 Q416,1316 419,1310 L425,1298" fill="none" stroke="#c4c4c4" stroke-width="3.30" stroke-linecap="round" stroke-linejoin="round"/>
<path d="M437,1126 Q435,1136 440,1143 L371.5,1277 Q369,1283 374,1287 L410,1313 Q416,1316 419,1310 L425,1298" fill="none" stroke="#ffffff" stroke-width="1.25" stroke-linecap="round" stroke-linejoin="round"/>
<path d="M1393.8,1392 L1396,1403 Q1397.5,1410 1405,1408 L1459,1392.5 Q1466,1390.5 1465,1384 L1463,1375" fill="none" stroke="#9a9a9a" stroke-width="3.20" stroke-linecap="round"/>
<path d="M1393.8,1392 L1396,1403 Q1397.5,1410 1405,1408 L1459,1392.5 Q1466,1390.5 1465,1384 L1463,1375" fill="none" stroke="#e8e8e8" stroke-width="1.40" stroke-linecap="round"/>
<path d="M254.0,1370.0 L1259.0,1061.0 L1815.0,1541.0 L879.0,1790.0 Z M448.4,1389.9 Q435.0,1394.0 446.6,1401.9 L900.4,1712.1 Q912.0,1720.0 925.5,1716.4 L1633.5,1526.6 Q1647.0,1523.0 1636.2,1514.1 L1217.8,1166.9 Q1207.0,1158.0 1193.6,1162.1 Z " fill="url(#gT)" stroke="none" stroke-width="1.00" fill-rule="evenodd"/>
<polygon points="254.0,1370.0 1259.0,1061.0 1207.0,1158.0 435.0,1394.0" fill="url(#gTt)" />
<polygon points="1259.0,1061.0 1815.0,1541.0 1647.0,1523.0 1207.0,1158.0" fill="#2e2e2e" />
<polygon points="254.0,1370.0 1259.0,1061.0 1262.0,1066.0 258.0,1375.0" fill="#666666" />
<polygon points="420.0,1319.0 1259.0,1061.0 1262.0,1066.0 424.0,1324.0" fill="url(#gTe)" />
<polygon points="1259.0,1061.0 1815.0,1541.0 1809.5,1544.0 1262.5,1068.0" fill="url(#gTr)" />
<path d="M897,1709 Q912,1720 930,1716" fill="none" stroke="#7a7a7a" stroke-width="1.60" stroke-linecap="round"/>
<path d="M1693,1531 L1707,1527 M1707,1527 L1700,1521" fill="none" stroke="#151515" stroke-width="1.20" />
<path d="M385,1381.3 L370.8,1385 L380,1391.6" fill="none" stroke="#1c1c1c" stroke-width="1.10" />
<ellipse cx="1496.0" cy="879.0" rx="20.0" ry="1.1" fill="#ffffff" opacity="0.75" filter="url(#b1)" transform="rotate(38 1496.0 879.0)"/>
<ellipse cx="1496.0" cy="879.0" rx="20.0" ry="1.1" fill="#ffffff" opacity="0.75" filter="url(#b1)" transform="rotate(-52 1496.0 879.0)"/>
<ellipse cx="1496.0" cy="879.0" rx="3.2" ry="3.2" fill="#ffffff" opacity="0.75" filter="url(#b1)"/>
<ellipse cx="1271.7" cy="955.0" rx="13.0" ry="1.1" fill="#ffffff" opacity="0.75" filter="url(#b1)" transform="rotate(38 1271.7 955.0)"/>
<ellipse cx="1271.7" cy="955.0" rx="13.0" ry="1.1" fill="#ffffff" opacity="0.75" filter="url(#b1)" transform="rotate(-52 1271.7 955.0)"/>
<ellipse cx="1271.7" cy="955.0" rx="3.2" ry="3.2" fill="#ffffff" opacity="0.75" filter="url(#b1)"/>
<ellipse cx="1357.0" cy="931.0" rx="13.0" ry="1.1" fill="#ffffff" opacity="0.75" filter="url(#b1)" transform="rotate(38 1357.0 931.0)"/>
<ellipse cx="1357.0" cy="931.0" rx="13.0" ry="1.1" fill="#ffffff" opacity="0.75" filter="url(#b1)" transform="rotate(-52 1357.0 931.0)"/>
<ellipse cx="1357.0" cy="931.0" rx="3.2" ry="3.2" fill="#ffffff" opacity="0.75" filter="url(#b1)"/>
<ellipse cx="1330.0" cy="870.0" rx="12.0" ry="1.1" fill="#ffffff" opacity="0.75" filter="url(#b1)" transform="rotate(38 1330.0 870.0)"/>
<ellipse cx="1330.0" cy="870.0" rx="12.0" ry="1.1" fill="#ffffff" opacity="0.75" filter="url(#b1)" transform="rotate(-52 1330.0 870.0)"/>
<ellipse cx="1330.0" cy="870.0" rx="3.2" ry="3.2" fill="#ffffff" opacity="0.75" filter="url(#b1)"/>
<ellipse cx="1292.0" cy="838.0" rx="11.0" ry="1.1" fill="#ffffff" opacity="0.75" filter="url(#b1)" transform="rotate(38 1292.0 838.0)"/>
<ellipse cx="1292.0" cy="838.0" rx="11.0" ry="1.1" fill="#ffffff" opacity="0.75" filter="url(#b1)" transform="rotate(-52 1292.0 838.0)"/>
<ellipse cx="1292.0" cy="838.0" rx="3.2" ry="3.2" fill="#ffffff" opacity="0.75" filter="url(#b1)"/>
<ellipse cx="561.0" cy="770.0" rx="12.0" ry="1.1" fill="#ffffff" opacity="0.75" filter="url(#b1)" transform="rotate(38 561.0 770.0)"/>
<ellipse cx="561.0" cy="770.0" rx="12.0" ry="1.1" fill="#ffffff" opacity="0.75" filter="url(#b1)" transform="rotate(-52 561.0 770.0)"/>
<ellipse cx="561.0" cy="770.0" rx="3.2" ry="3.2" fill="#ffffff" opacity="0.75" filter="url(#b1)"/>
<ellipse cx="1118.0" cy="821.0" rx="11.0" ry="1.1" fill="#ffffff" opacity="0.75" filter="url(#b1)" transform="rotate(38 1118.0 821.0)"/>
<ellipse cx="1118.0" cy="821.0" rx="11.0" ry="1.1" fill="#ffffff" opacity="0.75" filter="url(#b1)" transform="rotate(-52 1118.0 821.0)"/>
<ellipse cx="1118.0" cy="821.0" rx="3.2" ry="3.2" fill="#ffffff" opacity="0.75" filter="url(#b1)"/>
<ellipse cx="1304.0" cy="692.0" rx="11.0" ry="1.1" fill="#ffffff" opacity="0.75" filter="url(#b1)" transform="rotate(38 1304.0 692.0)"/>
<ellipse cx="1304.0" cy="692.0" rx="11.0" ry="1.1" fill="#ffffff" opacity="0.75" filter="url(#b1)" transform="rotate(-52 1304.0 692.0)"/>
<ellipse cx="1304.0" cy="692.0" rx="3.2" ry="3.2" fill="#ffffff" opacity="0.75" filter="url(#b1)"/>
<ellipse cx="1166.0" cy="548.0" rx="9.0" ry="1.1" fill="#ffffff" opacity="0.75" filter="url(#b1)" transform="rotate(38 1166.0 548.0)"/>
<ellipse cx="1166.0" cy="548.0" rx="9.0" ry="1.1" fill="#ffffff" opacity="0.75" filter="url(#b1)" transform="rotate(-52 1166.0 548.0)"/>
<ellipse cx="1166.0" cy="548.0" rx="3.2" ry="3.2" fill="#ffffff" opacity="0.75" filter="url(#b1)"/>
<ellipse cx="548.0" cy="747.0" rx="9.0" ry="1.1" fill="#ffffff" opacity="0.75" filter="url(#b1)" transform="rotate(38 548.0 747.0)"/>
<ellipse cx="548.0" cy="747.0" rx="9.0" ry="1.1" fill="#ffffff" opacity="0.75" filter="url(#b1)" transform="rotate(-52 548.0 747.0)"/>
<ellipse cx="548.0" cy="747.0" rx="3.2" ry="3.2" fill="#ffffff" opacity="0.75" filter="url(#b1)"/>
</svg>
</body></html>
